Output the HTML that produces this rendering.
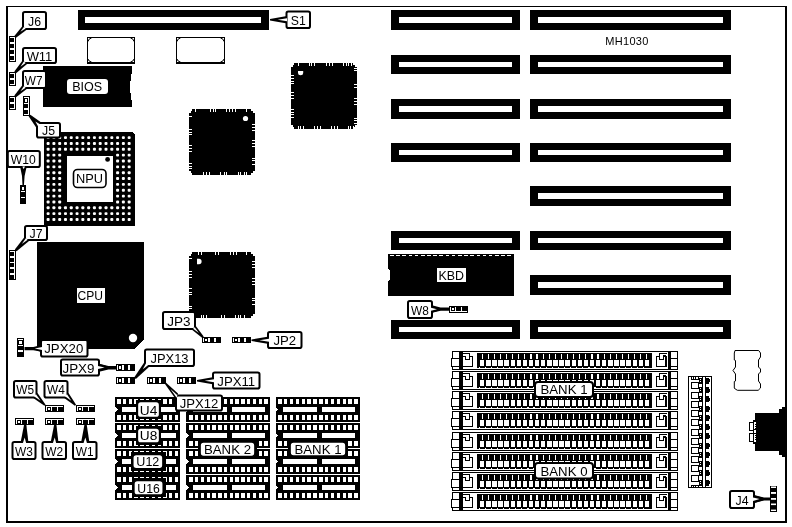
<!DOCTYPE html>
<html lang="en"><head><meta charset="utf-8"><title>MH1030 motherboard layout</title>
<style>
html,body{margin:0;padding:0;background:#fff;}
body{width:792px;height:527px;overflow:hidden;}
svg{display:block;will-change:transform;font-family:"Liberation Sans",sans-serif;fill:#000;}
svg text{fill:#000;}
</style></head><body>
<svg width="792" height="527" viewBox="0 0 792 527" shape-rendering="crispEdges">
<rect x="0" y="0" width="792" height="527" fill="#fff"/>
<rect x="6" y="6" width="781" height="1" fill="#000"/>
<rect x="6" y="6" width="2" height="517" fill="#000"/>
<rect x="785" y="6" width="2" height="517" fill="#000"/>
<rect x="6" y="521" width="781" height="2" fill="#000"/>
<rect x="530" y="10" width="201" height="20" fill="#000"/>
<rect x="538" y="17" width="185" height="6" fill="#fff"/>
<rect x="391" y="10" width="129" height="20" fill="#000"/>
<rect x="399" y="17" width="113" height="6" fill="#fff"/>
<rect x="530" y="55" width="201" height="19" fill="#000"/>
<rect x="538" y="62" width="185" height="5" fill="#fff"/>
<rect x="391" y="55" width="129" height="19" fill="#000"/>
<rect x="399" y="62" width="113" height="5" fill="#fff"/>
<rect x="530" y="99" width="201" height="20" fill="#000"/>
<rect x="538" y="106" width="185" height="6" fill="#fff"/>
<rect x="391" y="99" width="129" height="20" fill="#000"/>
<rect x="399" y="106" width="113" height="6" fill="#fff"/>
<rect x="530" y="143" width="201" height="19" fill="#000"/>
<rect x="538" y="150" width="185" height="5" fill="#fff"/>
<rect x="391" y="143" width="129" height="19" fill="#000"/>
<rect x="399" y="150" width="113" height="5" fill="#fff"/>
<rect x="530" y="186" width="201" height="20" fill="#000"/>
<rect x="538" y="193" width="185" height="6" fill="#fff"/>
<rect x="530" y="231" width="201" height="19" fill="#000"/>
<rect x="538" y="238" width="185" height="5" fill="#fff"/>
<rect x="391" y="231" width="129" height="19" fill="#000"/>
<rect x="399" y="238" width="113" height="5" fill="#fff"/>
<rect x="530" y="275" width="201" height="20" fill="#000"/>
<rect x="538" y="282" width="185" height="6" fill="#fff"/>
<rect x="530" y="320" width="201" height="19" fill="#000"/>
<rect x="538" y="327" width="185" height="5" fill="#fff"/>
<rect x="391" y="320" width="129" height="19" fill="#000"/>
<rect x="399" y="327" width="113" height="5" fill="#fff"/>
<rect x="78" y="10" width="191" height="20" fill="#000"/>
<rect x="85" y="17" width="176" height="6" fill="#fff"/>
<rect x="87" y="37" width="48" height="27" fill="#000"/>
<rect x="88" y="38" width="46" height="25" fill="#fff"/>
<rect x="87" y="62" width="48" height="2" fill="#000"/>
<path d="M88,41.5 Q88.5,38.5 91.5,38 M134,41.5 Q133.5,38.5 130.5,38 M88,59 Q88.5,61.5 91.5,62 M134,59 Q133.5,61.5 130.5,62" fill="none" stroke="#000" stroke-width="1" shape-rendering="geometricPrecision"/>
<rect x="176" y="37" width="49" height="27" fill="#000"/>
<rect x="177" y="38" width="47" height="25" fill="#fff"/>
<rect x="176" y="62" width="49" height="2" fill="#000"/>
<path d="M177,41.5 Q177.5,38.5 180.5,38 M224,41.5 Q223.5,38.5 220.5,38 M177,59 Q177.5,61.5 180.5,62 M224,59 Q223.5,61.5 220.5,62" fill="none" stroke="#000" stroke-width="1" shape-rendering="geometricPrecision"/>
<rect x="192" y="109" width="59" height="66" fill="#000"/>
<rect x="189" y="113" width="66" height="58" fill="#000"/>
<rect x="191" y="111" width="62" height="62" fill="#000"/>
<circle cx="245.5" cy="118.5" r="2.6" fill="#fff" shape-rendering="geometricPrecision"/>
<rect x="195" y="109" width="1" height="3" fill="#fff"/>
<rect x="210" y="109" width="1" height="3" fill="#fff"/>
<rect x="213" y="109" width="1" height="3" fill="#fff"/>
<rect x="215" y="109" width="1" height="3" fill="#fff"/>
<rect x="226" y="109" width="1" height="3" fill="#fff"/>
<rect x="229" y="109" width="1" height="3" fill="#fff"/>
<rect x="232" y="109" width="1" height="3" fill="#fff"/>
<rect x="235" y="109" width="1" height="3" fill="#fff"/>
<rect x="246" y="109" width="1" height="3" fill="#fff"/>
<rect x="203" y="172" width="1" height="3" fill="#fff"/>
<rect x="206" y="172" width="1" height="3" fill="#fff"/>
<rect x="209" y="172" width="1" height="3" fill="#fff"/>
<rect x="220" y="172" width="1" height="3" fill="#fff"/>
<rect x="224" y="172" width="1" height="3" fill="#fff"/>
<rect x="226" y="172" width="1" height="3" fill="#fff"/>
<rect x="238" y="172" width="1" height="3" fill="#fff"/>
<rect x="240" y="172" width="1" height="3" fill="#fff"/>
<rect x="244" y="172" width="1" height="3" fill="#fff"/>
<rect x="246" y="172" width="1" height="3" fill="#fff"/>
<rect x="189" y="116" width="3" height="1" fill="#fff"/>
<rect x="189" y="129" width="3" height="1" fill="#fff"/>
<rect x="189" y="132" width="3" height="1" fill="#fff"/>
<rect x="189" y="134" width="3" height="1" fill="#fff"/>
<rect x="189" y="145" width="3" height="1" fill="#fff"/>
<rect x="189" y="148" width="3" height="1" fill="#fff"/>
<rect x="189" y="151" width="3" height="1" fill="#fff"/>
<rect x="189" y="163" width="3" height="1" fill="#fff"/>
<rect x="189" y="166" width="3" height="1" fill="#fff"/>
<rect x="189" y="168" width="3" height="1" fill="#fff"/>
<rect x="252" y="124" width="3" height="1" fill="#fff"/>
<rect x="252" y="127" width="3" height="1" fill="#fff"/>
<rect x="252" y="130" width="3" height="1" fill="#fff"/>
<rect x="252" y="140" width="3" height="1" fill="#fff"/>
<rect x="252" y="143" width="3" height="1" fill="#fff"/>
<rect x="252" y="146" width="3" height="1" fill="#fff"/>
<rect x="252" y="158" width="3" height="1" fill="#fff"/>
<rect x="252" y="160" width="3" height="1" fill="#fff"/>
<rect x="252" y="164" width="3" height="1" fill="#fff"/>
<rect x="294" y="63" width="59" height="66" fill="#000"/>
<rect x="291" y="67" width="66" height="58" fill="#000"/>
<rect x="293" y="65" width="62" height="62" fill="#000"/>
<path d="M298,71 H303.2 V73 Q303.2,75.2 300.6,75.2 Q298,75.2 298,73 Z" fill="#fff" shape-rendering="geometricPrecision"/>
<rect x="298" y="63" width="1" height="3" fill="#fff"/>
<rect x="309" y="63" width="1" height="3" fill="#fff"/>
<rect x="311" y="63" width="1" height="3" fill="#fff"/>
<rect x="314" y="63" width="1" height="3" fill="#fff"/>
<rect x="326" y="63" width="1" height="3" fill="#fff"/>
<rect x="329" y="63" width="1" height="3" fill="#fff"/>
<rect x="332" y="63" width="1" height="3" fill="#fff"/>
<rect x="343" y="63" width="1" height="3" fill="#fff"/>
<rect x="346" y="63" width="1" height="3" fill="#fff"/>
<rect x="348" y="63" width="1" height="3" fill="#fff"/>
<rect x="351" y="63" width="1" height="3" fill="#fff"/>
<rect x="298" y="126" width="1" height="3" fill="#fff"/>
<rect x="300" y="126" width="1" height="3" fill="#fff"/>
<rect x="303" y="126" width="1" height="3" fill="#fff"/>
<rect x="314" y="126" width="1" height="3" fill="#fff"/>
<rect x="317" y="126" width="1" height="3" fill="#fff"/>
<rect x="320" y="126" width="1" height="3" fill="#fff"/>
<rect x="331" y="126" width="1" height="3" fill="#fff"/>
<rect x="334" y="126" width="1" height="3" fill="#fff"/>
<rect x="337" y="126" width="1" height="3" fill="#fff"/>
<rect x="348" y="126" width="1" height="3" fill="#fff"/>
<rect x="350" y="126" width="1" height="3" fill="#fff"/>
<rect x="353" y="126" width="1" height="3" fill="#fff"/>
<rect x="291" y="75" width="3" height="1" fill="#fff"/>
<rect x="291" y="78" width="3" height="1" fill="#fff"/>
<rect x="291" y="81" width="3" height="1" fill="#fff"/>
<rect x="291" y="83" width="3" height="1" fill="#fff"/>
<rect x="291" y="92" width="3" height="1" fill="#fff"/>
<rect x="291" y="95" width="3" height="1" fill="#fff"/>
<rect x="291" y="98" width="3" height="1" fill="#fff"/>
<rect x="291" y="109" width="3" height="1" fill="#fff"/>
<rect x="291" y="112" width="3" height="1" fill="#fff"/>
<rect x="291" y="114" width="3" height="1" fill="#fff"/>
<rect x="291" y="117" width="3" height="1" fill="#fff"/>
<rect x="354" y="68" width="3" height="1" fill="#fff"/>
<rect x="354" y="70" width="3" height="1" fill="#fff"/>
<rect x="354" y="84" width="3" height="1" fill="#fff"/>
<rect x="354" y="87" width="3" height="1" fill="#fff"/>
<rect x="354" y="98" width="3" height="1" fill="#fff"/>
<rect x="354" y="101" width="3" height="1" fill="#fff"/>
<rect x="354" y="104" width="3" height="1" fill="#fff"/>
<rect x="354" y="118" width="3" height="1" fill="#fff"/>
<rect x="354" y="120" width="3" height="1" fill="#fff"/>
<rect x="354" y="123" width="3" height="1" fill="#fff"/>
<rect x="192" y="252" width="59" height="66" fill="#000"/>
<rect x="189" y="256" width="66" height="58" fill="#000"/>
<rect x="191" y="254" width="62" height="62" fill="#000"/>
<path d="M197,258.8 H199 Q201.6,258.8 201.6,261.5 Q201.6,264.2 199,264.2 H197 Z" fill="#fff" shape-rendering="geometricPrecision"/>
<rect x="198" y="252" width="1" height="3" fill="#fff"/>
<rect x="201" y="252" width="1" height="3" fill="#fff"/>
<rect x="215" y="252" width="1" height="3" fill="#fff"/>
<rect x="218" y="252" width="1" height="3" fill="#fff"/>
<rect x="230" y="252" width="1" height="3" fill="#fff"/>
<rect x="233" y="252" width="1" height="3" fill="#fff"/>
<rect x="236" y="252" width="1" height="3" fill="#fff"/>
<rect x="246" y="252" width="1" height="3" fill="#fff"/>
<rect x="201" y="315" width="1" height="3" fill="#fff"/>
<rect x="203" y="315" width="1" height="3" fill="#fff"/>
<rect x="206" y="315" width="1" height="3" fill="#fff"/>
<rect x="221" y="315" width="1" height="3" fill="#fff"/>
<rect x="224" y="315" width="1" height="3" fill="#fff"/>
<rect x="235" y="315" width="1" height="3" fill="#fff"/>
<rect x="238" y="315" width="1" height="3" fill="#fff"/>
<rect x="240" y="315" width="1" height="3" fill="#fff"/>
<rect x="244" y="315" width="1" height="3" fill="#fff"/>
<rect x="189" y="258" width="3" height="1" fill="#fff"/>
<rect x="189" y="271" width="3" height="1" fill="#fff"/>
<rect x="189" y="274" width="3" height="1" fill="#fff"/>
<rect x="189" y="277" width="3" height="1" fill="#fff"/>
<rect x="189" y="288" width="3" height="1" fill="#fff"/>
<rect x="189" y="292" width="3" height="1" fill="#fff"/>
<rect x="189" y="294" width="3" height="1" fill="#fff"/>
<rect x="189" y="306" width="3" height="1" fill="#fff"/>
<rect x="189" y="308" width="3" height="1" fill="#fff"/>
<rect x="252" y="261" width="3" height="1" fill="#fff"/>
<rect x="252" y="264" width="3" height="1" fill="#fff"/>
<rect x="252" y="267" width="3" height="1" fill="#fff"/>
<rect x="252" y="278" width="3" height="1" fill="#fff"/>
<rect x="252" y="281" width="3" height="1" fill="#fff"/>
<rect x="252" y="284" width="3" height="1" fill="#fff"/>
<rect x="252" y="298" width="3" height="1" fill="#fff"/>
<rect x="252" y="300" width="3" height="1" fill="#fff"/>
<rect x="252" y="304" width="3" height="1" fill="#fff"/>
<rect x="43" y="66" width="89" height="41" fill="#000"/>
<rect x="131" y="74" width="1" height="26" fill="#fff"/>
<rect x="130" y="81" width="1" height="12" fill="#fff"/>
<rect x="67" y="79" width="41" height="15" rx="3" fill="#fff" shape-rendering="geometricPrecision"/>
<text x="87.2" y="91.1" font-size="13.6" text-anchor="middle" letter-spacing="0" textLength="30" lengthAdjust="spacingAndGlyphs">BIOS</text>
<polygon points="44,132 132,132 135,135 135,226 44,226" fill="#000" stroke="none" stroke-width="1"/>
<rect x="46.60" y="136.15" width="3" height="2.9" rx="1" fill="#fff" shape-rendering="geometricPrecision"/>
<rect x="52.39" y="136.15" width="3" height="2.9" rx="1" fill="#fff" shape-rendering="geometricPrecision"/>
<rect x="58.18" y="136.15" width="3" height="2.9" rx="1" fill="#fff" shape-rendering="geometricPrecision"/>
<rect x="63.97" y="136.15" width="3" height="2.9" rx="1" fill="#fff" shape-rendering="geometricPrecision"/>
<rect x="69.76" y="136.15" width="3" height="2.9" rx="1" fill="#fff" shape-rendering="geometricPrecision"/>
<rect x="75.55" y="136.15" width="3" height="2.9" rx="1" fill="#fff" shape-rendering="geometricPrecision"/>
<rect x="81.34" y="136.15" width="3" height="2.9" rx="1" fill="#fff" shape-rendering="geometricPrecision"/>
<rect x="87.13" y="136.15" width="3" height="2.9" rx="1" fill="#fff" shape-rendering="geometricPrecision"/>
<rect x="92.92" y="136.15" width="3" height="2.9" rx="1" fill="#fff" shape-rendering="geometricPrecision"/>
<rect x="98.71" y="136.15" width="3" height="2.9" rx="1" fill="#fff" shape-rendering="geometricPrecision"/>
<rect x="104.50" y="136.15" width="3" height="2.9" rx="1" fill="#fff" shape-rendering="geometricPrecision"/>
<rect x="110.29" y="136.15" width="3" height="2.9" rx="1" fill="#fff" shape-rendering="geometricPrecision"/>
<rect x="116.08" y="136.15" width="3" height="2.9" rx="1" fill="#fff" shape-rendering="geometricPrecision"/>
<rect x="121.87" y="136.15" width="3" height="2.9" rx="1" fill="#fff" shape-rendering="geometricPrecision"/>
<rect x="127.66" y="136.15" width="3" height="2.9" rx="1" fill="#fff" shape-rendering="geometricPrecision"/>
<rect x="46.60" y="142.00" width="3" height="2.9" rx="1" fill="#fff" shape-rendering="geometricPrecision"/>
<rect x="52.39" y="142.00" width="3" height="2.9" rx="1" fill="#fff" shape-rendering="geometricPrecision"/>
<rect x="58.18" y="142.00" width="3" height="2.9" rx="1" fill="#fff" shape-rendering="geometricPrecision"/>
<rect x="63.97" y="142.00" width="3" height="2.9" rx="1" fill="#fff" shape-rendering="geometricPrecision"/>
<rect x="69.76" y="142.00" width="3" height="2.9" rx="1" fill="#fff" shape-rendering="geometricPrecision"/>
<rect x="75.55" y="142.00" width="3" height="2.9" rx="1" fill="#fff" shape-rendering="geometricPrecision"/>
<rect x="81.34" y="142.00" width="3" height="2.9" rx="1" fill="#fff" shape-rendering="geometricPrecision"/>
<rect x="87.13" y="142.00" width="3" height="2.9" rx="1" fill="#fff" shape-rendering="geometricPrecision"/>
<rect x="92.92" y="142.00" width="3" height="2.9" rx="1" fill="#fff" shape-rendering="geometricPrecision"/>
<rect x="98.71" y="142.00" width="3" height="2.9" rx="1" fill="#fff" shape-rendering="geometricPrecision"/>
<rect x="104.50" y="142.00" width="3" height="2.9" rx="1" fill="#fff" shape-rendering="geometricPrecision"/>
<rect x="110.29" y="142.00" width="3" height="2.9" rx="1" fill="#fff" shape-rendering="geometricPrecision"/>
<rect x="116.08" y="142.00" width="3" height="2.9" rx="1" fill="#fff" shape-rendering="geometricPrecision"/>
<rect x="121.87" y="142.00" width="3" height="2.9" rx="1" fill="#fff" shape-rendering="geometricPrecision"/>
<rect x="127.66" y="142.00" width="3" height="2.9" rx="1" fill="#fff" shape-rendering="geometricPrecision"/>
<rect x="46.60" y="147.85" width="3" height="2.9" rx="1" fill="#fff" shape-rendering="geometricPrecision"/>
<rect x="52.39" y="147.85" width="3" height="2.9" rx="1" fill="#fff" shape-rendering="geometricPrecision"/>
<rect x="58.18" y="147.85" width="3" height="2.9" rx="1" fill="#fff" shape-rendering="geometricPrecision"/>
<rect x="63.97" y="147.85" width="3" height="2.9" rx="1" fill="#fff" shape-rendering="geometricPrecision"/>
<rect x="69.76" y="147.85" width="3" height="2.9" rx="1" fill="#fff" shape-rendering="geometricPrecision"/>
<rect x="75.55" y="147.85" width="3" height="2.9" rx="1" fill="#fff" shape-rendering="geometricPrecision"/>
<rect x="81.34" y="147.85" width="3" height="2.9" rx="1" fill="#fff" shape-rendering="geometricPrecision"/>
<rect x="87.13" y="147.85" width="3" height="2.9" rx="1" fill="#fff" shape-rendering="geometricPrecision"/>
<rect x="92.92" y="147.85" width="3" height="2.9" rx="1" fill="#fff" shape-rendering="geometricPrecision"/>
<rect x="98.71" y="147.85" width="3" height="2.9" rx="1" fill="#fff" shape-rendering="geometricPrecision"/>
<rect x="104.50" y="147.85" width="3" height="2.9" rx="1" fill="#fff" shape-rendering="geometricPrecision"/>
<rect x="110.29" y="147.85" width="3" height="2.9" rx="1" fill="#fff" shape-rendering="geometricPrecision"/>
<rect x="116.08" y="147.85" width="3" height="2.9" rx="1" fill="#fff" shape-rendering="geometricPrecision"/>
<rect x="121.87" y="147.85" width="3" height="2.9" rx="1" fill="#fff" shape-rendering="geometricPrecision"/>
<rect x="127.66" y="147.85" width="3" height="2.9" rx="1" fill="#fff" shape-rendering="geometricPrecision"/>
<rect x="46.60" y="153.70" width="3" height="2.9" rx="1" fill="#fff" shape-rendering="geometricPrecision"/>
<rect x="52.39" y="153.70" width="3" height="2.9" rx="1" fill="#fff" shape-rendering="geometricPrecision"/>
<rect x="58.18" y="153.70" width="3" height="2.9" rx="1" fill="#fff" shape-rendering="geometricPrecision"/>
<rect x="116.08" y="153.70" width="3" height="2.9" rx="1" fill="#fff" shape-rendering="geometricPrecision"/>
<rect x="121.87" y="153.70" width="3" height="2.9" rx="1" fill="#fff" shape-rendering="geometricPrecision"/>
<rect x="127.66" y="153.70" width="3" height="2.9" rx="1" fill="#fff" shape-rendering="geometricPrecision"/>
<rect x="46.60" y="159.55" width="3" height="2.9" rx="1" fill="#fff" shape-rendering="geometricPrecision"/>
<rect x="52.39" y="159.55" width="3" height="2.9" rx="1" fill="#fff" shape-rendering="geometricPrecision"/>
<rect x="58.18" y="159.55" width="3" height="2.9" rx="1" fill="#fff" shape-rendering="geometricPrecision"/>
<rect x="116.08" y="159.55" width="3" height="2.9" rx="1" fill="#fff" shape-rendering="geometricPrecision"/>
<rect x="121.87" y="159.55" width="3" height="2.9" rx="1" fill="#fff" shape-rendering="geometricPrecision"/>
<rect x="127.66" y="159.55" width="3" height="2.9" rx="1" fill="#fff" shape-rendering="geometricPrecision"/>
<rect x="46.60" y="165.40" width="3" height="2.9" rx="1" fill="#fff" shape-rendering="geometricPrecision"/>
<rect x="52.39" y="165.40" width="3" height="2.9" rx="1" fill="#fff" shape-rendering="geometricPrecision"/>
<rect x="58.18" y="165.40" width="3" height="2.9" rx="1" fill="#fff" shape-rendering="geometricPrecision"/>
<rect x="116.08" y="165.40" width="3" height="2.9" rx="1" fill="#fff" shape-rendering="geometricPrecision"/>
<rect x="121.87" y="165.40" width="3" height="2.9" rx="1" fill="#fff" shape-rendering="geometricPrecision"/>
<rect x="127.66" y="165.40" width="3" height="2.9" rx="1" fill="#fff" shape-rendering="geometricPrecision"/>
<rect x="46.60" y="171.25" width="3" height="2.9" rx="1" fill="#fff" shape-rendering="geometricPrecision"/>
<rect x="52.39" y="171.25" width="3" height="2.9" rx="1" fill="#fff" shape-rendering="geometricPrecision"/>
<rect x="58.18" y="171.25" width="3" height="2.9" rx="1" fill="#fff" shape-rendering="geometricPrecision"/>
<rect x="116.08" y="171.25" width="3" height="2.9" rx="1" fill="#fff" shape-rendering="geometricPrecision"/>
<rect x="121.87" y="171.25" width="3" height="2.9" rx="1" fill="#fff" shape-rendering="geometricPrecision"/>
<rect x="127.66" y="171.25" width="3" height="2.9" rx="1" fill="#fff" shape-rendering="geometricPrecision"/>
<rect x="46.60" y="177.10" width="3" height="2.9" rx="1" fill="#fff" shape-rendering="geometricPrecision"/>
<rect x="52.39" y="177.10" width="3" height="2.9" rx="1" fill="#fff" shape-rendering="geometricPrecision"/>
<rect x="58.18" y="177.10" width="3" height="2.9" rx="1" fill="#fff" shape-rendering="geometricPrecision"/>
<rect x="116.08" y="177.10" width="3" height="2.9" rx="1" fill="#fff" shape-rendering="geometricPrecision"/>
<rect x="121.87" y="177.10" width="3" height="2.9" rx="1" fill="#fff" shape-rendering="geometricPrecision"/>
<rect x="127.66" y="177.10" width="3" height="2.9" rx="1" fill="#fff" shape-rendering="geometricPrecision"/>
<rect x="46.60" y="182.95" width="3" height="2.9" rx="1" fill="#fff" shape-rendering="geometricPrecision"/>
<rect x="52.39" y="182.95" width="3" height="2.9" rx="1" fill="#fff" shape-rendering="geometricPrecision"/>
<rect x="58.18" y="182.95" width="3" height="2.9" rx="1" fill="#fff" shape-rendering="geometricPrecision"/>
<rect x="116.08" y="182.95" width="3" height="2.9" rx="1" fill="#fff" shape-rendering="geometricPrecision"/>
<rect x="121.87" y="182.95" width="3" height="2.9" rx="1" fill="#fff" shape-rendering="geometricPrecision"/>
<rect x="127.66" y="182.95" width="3" height="2.9" rx="1" fill="#fff" shape-rendering="geometricPrecision"/>
<rect x="46.60" y="188.80" width="3" height="2.9" rx="1" fill="#fff" shape-rendering="geometricPrecision"/>
<rect x="52.39" y="188.80" width="3" height="2.9" rx="1" fill="#fff" shape-rendering="geometricPrecision"/>
<rect x="58.18" y="188.80" width="3" height="2.9" rx="1" fill="#fff" shape-rendering="geometricPrecision"/>
<rect x="116.08" y="188.80" width="3" height="2.9" rx="1" fill="#fff" shape-rendering="geometricPrecision"/>
<rect x="121.87" y="188.80" width="3" height="2.9" rx="1" fill="#fff" shape-rendering="geometricPrecision"/>
<rect x="127.66" y="188.80" width="3" height="2.9" rx="1" fill="#fff" shape-rendering="geometricPrecision"/>
<rect x="46.60" y="194.65" width="3" height="2.9" rx="1" fill="#fff" shape-rendering="geometricPrecision"/>
<rect x="52.39" y="194.65" width="3" height="2.9" rx="1" fill="#fff" shape-rendering="geometricPrecision"/>
<rect x="58.18" y="194.65" width="3" height="2.9" rx="1" fill="#fff" shape-rendering="geometricPrecision"/>
<rect x="116.08" y="194.65" width="3" height="2.9" rx="1" fill="#fff" shape-rendering="geometricPrecision"/>
<rect x="121.87" y="194.65" width="3" height="2.9" rx="1" fill="#fff" shape-rendering="geometricPrecision"/>
<rect x="127.66" y="194.65" width="3" height="2.9" rx="1" fill="#fff" shape-rendering="geometricPrecision"/>
<rect x="46.60" y="200.50" width="3" height="2.9" rx="1" fill="#fff" shape-rendering="geometricPrecision"/>
<rect x="52.39" y="200.50" width="3" height="2.9" rx="1" fill="#fff" shape-rendering="geometricPrecision"/>
<rect x="58.18" y="200.50" width="3" height="2.9" rx="1" fill="#fff" shape-rendering="geometricPrecision"/>
<rect x="116.08" y="200.50" width="3" height="2.9" rx="1" fill="#fff" shape-rendering="geometricPrecision"/>
<rect x="121.87" y="200.50" width="3" height="2.9" rx="1" fill="#fff" shape-rendering="geometricPrecision"/>
<rect x="127.66" y="200.50" width="3" height="2.9" rx="1" fill="#fff" shape-rendering="geometricPrecision"/>
<rect x="46.60" y="206.35" width="3" height="2.9" rx="1" fill="#fff" shape-rendering="geometricPrecision"/>
<rect x="52.39" y="206.35" width="3" height="2.9" rx="1" fill="#fff" shape-rendering="geometricPrecision"/>
<rect x="58.18" y="206.35" width="3" height="2.9" rx="1" fill="#fff" shape-rendering="geometricPrecision"/>
<rect x="63.97" y="206.35" width="3" height="2.9" rx="1" fill="#fff" shape-rendering="geometricPrecision"/>
<rect x="69.76" y="206.35" width="3" height="2.9" rx="1" fill="#fff" shape-rendering="geometricPrecision"/>
<rect x="75.55" y="206.35" width="3" height="2.9" rx="1" fill="#fff" shape-rendering="geometricPrecision"/>
<rect x="81.34" y="206.35" width="3" height="2.9" rx="1" fill="#fff" shape-rendering="geometricPrecision"/>
<rect x="87.13" y="206.35" width="3" height="2.9" rx="1" fill="#fff" shape-rendering="geometricPrecision"/>
<rect x="92.92" y="206.35" width="3" height="2.9" rx="1" fill="#fff" shape-rendering="geometricPrecision"/>
<rect x="98.71" y="206.35" width="3" height="2.9" rx="1" fill="#fff" shape-rendering="geometricPrecision"/>
<rect x="104.50" y="206.35" width="3" height="2.9" rx="1" fill="#fff" shape-rendering="geometricPrecision"/>
<rect x="110.29" y="206.35" width="3" height="2.9" rx="1" fill="#fff" shape-rendering="geometricPrecision"/>
<rect x="116.08" y="206.35" width="3" height="2.9" rx="1" fill="#fff" shape-rendering="geometricPrecision"/>
<rect x="121.87" y="206.35" width="3" height="2.9" rx="1" fill="#fff" shape-rendering="geometricPrecision"/>
<rect x="127.66" y="206.35" width="3" height="2.9" rx="1" fill="#fff" shape-rendering="geometricPrecision"/>
<rect x="46.60" y="212.20" width="3" height="2.9" rx="1" fill="#fff" shape-rendering="geometricPrecision"/>
<rect x="52.39" y="212.20" width="3" height="2.9" rx="1" fill="#fff" shape-rendering="geometricPrecision"/>
<rect x="58.18" y="212.20" width="3" height="2.9" rx="1" fill="#fff" shape-rendering="geometricPrecision"/>
<rect x="63.97" y="212.20" width="3" height="2.9" rx="1" fill="#fff" shape-rendering="geometricPrecision"/>
<rect x="69.76" y="212.20" width="3" height="2.9" rx="1" fill="#fff" shape-rendering="geometricPrecision"/>
<rect x="75.55" y="212.20" width="3" height="2.9" rx="1" fill="#fff" shape-rendering="geometricPrecision"/>
<rect x="81.34" y="212.20" width="3" height="2.9" rx="1" fill="#fff" shape-rendering="geometricPrecision"/>
<rect x="87.13" y="212.20" width="3" height="2.9" rx="1" fill="#fff" shape-rendering="geometricPrecision"/>
<rect x="92.92" y="212.20" width="3" height="2.9" rx="1" fill="#fff" shape-rendering="geometricPrecision"/>
<rect x="98.71" y="212.20" width="3" height="2.9" rx="1" fill="#fff" shape-rendering="geometricPrecision"/>
<rect x="104.50" y="212.20" width="3" height="2.9" rx="1" fill="#fff" shape-rendering="geometricPrecision"/>
<rect x="110.29" y="212.20" width="3" height="2.9" rx="1" fill="#fff" shape-rendering="geometricPrecision"/>
<rect x="116.08" y="212.20" width="3" height="2.9" rx="1" fill="#fff" shape-rendering="geometricPrecision"/>
<rect x="121.87" y="212.20" width="3" height="2.9" rx="1" fill="#fff" shape-rendering="geometricPrecision"/>
<rect x="127.66" y="212.20" width="3" height="2.9" rx="1" fill="#fff" shape-rendering="geometricPrecision"/>
<rect x="46.60" y="218.05" width="3" height="2.9" rx="1" fill="#fff" shape-rendering="geometricPrecision"/>
<rect x="52.39" y="218.05" width="3" height="2.9" rx="1" fill="#fff" shape-rendering="geometricPrecision"/>
<rect x="58.18" y="218.05" width="3" height="2.9" rx="1" fill="#fff" shape-rendering="geometricPrecision"/>
<rect x="63.97" y="218.05" width="3" height="2.9" rx="1" fill="#fff" shape-rendering="geometricPrecision"/>
<rect x="69.76" y="218.05" width="3" height="2.9" rx="1" fill="#fff" shape-rendering="geometricPrecision"/>
<rect x="75.55" y="218.05" width="3" height="2.9" rx="1" fill="#fff" shape-rendering="geometricPrecision"/>
<rect x="81.34" y="218.05" width="3" height="2.9" rx="1" fill="#fff" shape-rendering="geometricPrecision"/>
<rect x="87.13" y="218.05" width="3" height="2.9" rx="1" fill="#fff" shape-rendering="geometricPrecision"/>
<rect x="92.92" y="218.05" width="3" height="2.9" rx="1" fill="#fff" shape-rendering="geometricPrecision"/>
<rect x="98.71" y="218.05" width="3" height="2.9" rx="1" fill="#fff" shape-rendering="geometricPrecision"/>
<rect x="104.50" y="218.05" width="3" height="2.9" rx="1" fill="#fff" shape-rendering="geometricPrecision"/>
<rect x="110.29" y="218.05" width="3" height="2.9" rx="1" fill="#fff" shape-rendering="geometricPrecision"/>
<rect x="116.08" y="218.05" width="3" height="2.9" rx="1" fill="#fff" shape-rendering="geometricPrecision"/>
<rect x="121.87" y="218.05" width="3" height="2.9" rx="1" fill="#fff" shape-rendering="geometricPrecision"/>
<rect x="127.66" y="218.05" width="3" height="2.9" rx="1" fill="#fff" shape-rendering="geometricPrecision"/>
<rect x="63" y="152" width="53" height="53" fill="#000"/>
<rect x="67" y="156" width="46" height="46" fill="#fff"/>
<circle cx="107.6" cy="159.4" r="2.4" fill="#000" shape-rendering="geometricPrecision"/>
<rect x="73.5" y="169.5" width="32.5" height="18" rx="4" fill="#fff" stroke="#000" stroke-width="1.6" shape-rendering="geometricPrecision"/>
<text x="89.5" y="183.4" font-size="13.6" text-anchor="middle" letter-spacing="0" textLength="27" lengthAdjust="spacingAndGlyphs">NPU</text>
<polygon points="37,242 144,242 144,339.5 134.5,349 37,349" fill="#000" stroke="none" stroke-width="1"/>
<circle cx="133" cy="338" r="4.2" fill="#fff" shape-rendering="geometricPrecision"/>
<rect x="77" y="288" width="28" height="15" fill="#fff"/>
<text x="90.2" y="300" font-size="13.6" text-anchor="middle" letter-spacing="0" textLength="25.5" lengthAdjust="spacingAndGlyphs">CPU</text>
<rect x="388" y="254" width="126" height="42" fill="#000"/>
<rect x="390" y="255" width="3.6" height="1" fill="#fff"/>
<rect x="396.18" y="255" width="3.6" height="1" fill="#fff"/>
<rect x="402.36" y="255" width="3.6" height="1" fill="#fff"/>
<rect x="408.54" y="255" width="3.6" height="1" fill="#fff"/>
<rect x="414.72" y="255" width="3.6" height="1" fill="#fff"/>
<rect x="420.9" y="255" width="3.6" height="1" fill="#fff"/>
<rect x="427.08" y="255" width="3.6" height="1" fill="#fff"/>
<rect x="433.26" y="255" width="3.6" height="1" fill="#fff"/>
<rect x="439.44" y="255" width="3.6" height="1" fill="#fff"/>
<rect x="445.62" y="255" width="3.6" height="1" fill="#fff"/>
<rect x="451.8" y="255" width="3.6" height="1" fill="#fff"/>
<rect x="457.98" y="255" width="3.6" height="1" fill="#fff"/>
<rect x="464.16" y="255" width="3.6" height="1" fill="#fff"/>
<rect x="470.34" y="255" width="3.6" height="1" fill="#fff"/>
<rect x="476.52" y="255" width="3.6" height="1" fill="#fff"/>
<rect x="482.7" y="255" width="3.6" height="1" fill="#fff"/>
<rect x="488.88" y="255" width="3.6" height="1" fill="#fff"/>
<rect x="495.06" y="255" width="3.6" height="1" fill="#fff"/>
<rect x="501.24" y="255" width="3.6" height="1" fill="#fff"/>
<rect x="507.42" y="255" width="3.6" height="1" fill="#fff"/>
<rect x="388" y="269" width="2" height="12" fill="#fff"/>
<rect x="389" y="269" width="1" height="1" fill="#000"/>
<rect x="389" y="280" width="1" height="1" fill="#000"/>
<rect x="437" y="268" width="28.5" height="14" fill="#fff"/>
<text x="451.2" y="279.9" font-size="13.6" text-anchor="middle" letter-spacing="0" textLength="25.5" lengthAdjust="spacingAndGlyphs">KBD</text>
<text x="627" y="45" font-size="11" text-anchor="middle" letter-spacing="0.3">MH1030</text>
<rect x="9" y="36" width="7" height="26" fill="#000"/>
<rect x="10" y="37" width="5" height="24" fill="#fff"/>
<rect x="10" y="38" width="4" height="4" fill="#000"/>
<rect x="10" y="44" width="4" height="4" fill="#000"/>
<rect x="10" y="50" width="4" height="4" fill="#000"/>
<rect x="10" y="56" width="4" height="4" fill="#000"/>
<rect x="9" y="72" width="7" height="14" fill="#000"/>
<rect x="10" y="73" width="5" height="12" fill="#fff"/>
<rect x="10" y="74" width="4" height="4" fill="#000"/>
<rect x="10" y="80" width="4" height="4" fill="#000"/>
<rect x="9" y="96" width="7" height="14" fill="#000"/>
<rect x="10" y="97" width="5" height="12" fill="#fff"/>
<rect x="10" y="98" width="4" height="4" fill="#000"/>
<rect x="10" y="104" width="4" height="4" fill="#000"/>
<rect x="23" y="96" width="7" height="20" fill="#000"/>
<rect x="24" y="97" width="5" height="18" fill="#fff"/>
<rect x="24" y="98" width="4" height="5" fill="#000"/>
<rect x="25" y="99" width="2" height="3" fill="#fff"/>
<rect x="24" y="104" width="4" height="4" fill="#000"/>
<rect x="24" y="110" width="4" height="4" fill="#000"/>
<rect x="9" y="250" width="7" height="30" fill="#000"/>
<rect x="10" y="251" width="5" height="28" fill="#fff"/>
<rect x="10" y="252" width="4" height="4" fill="#000"/>
<rect x="10" y="258" width="4" height="4" fill="#000"/>
<rect x="10" y="263" width="4" height="4" fill="#000"/>
<rect x="10" y="269" width="4" height="4" fill="#000"/>
<rect x="10" y="275" width="4" height="4" fill="#000"/>
<rect x="20" y="185" width="6" height="19" fill="#000"/>
<rect x="22" y="187" width="2" height="3" fill="#fff"/>
<rect x="21" y="191" width="4" height="1" fill="#fff"/>
<rect x="21" y="197" width="4" height="1" fill="#fff"/>
<rect x="17" y="338" width="7" height="19" fill="#000"/>
<rect x="18" y="339" width="5" height="1" fill="#fff"/>
<rect x="19" y="341" width="3" height="3" fill="#fff"/>
<rect x="18" y="345" width="5" height="1" fill="#fff"/>
<rect x="18" y="350" width="5" height="2" fill="#fff"/>
<rect x="116" y="364" width="19" height="7" fill="#000"/>
<rect x="117" y="365" width="1" height="5" fill="#fff"/>
<rect x="119" y="366" width="2" height="3" fill="#fff"/>
<rect x="122" y="365" width="2" height="5" fill="#fff"/>
<rect x="128" y="365" width="2" height="5" fill="#fff"/>
<rect x="116" y="377" width="19" height="7" fill="#000"/>
<rect x="117" y="378" width="1" height="5" fill="#fff"/>
<rect x="119" y="379" width="2" height="3" fill="#fff"/>
<rect x="122" y="378" width="2" height="5" fill="#fff"/>
<rect x="128" y="378" width="2" height="5" fill="#fff"/>
<rect x="147" y="377" width="19" height="7" fill="#000"/>
<rect x="148" y="378" width="1" height="5" fill="#fff"/>
<rect x="150" y="379" width="2" height="3" fill="#fff"/>
<rect x="153" y="378" width="2" height="5" fill="#fff"/>
<rect x="159" y="378" width="2" height="5" fill="#fff"/>
<rect x="177" y="377" width="19" height="7" fill="#000"/>
<rect x="178" y="378" width="1" height="5" fill="#fff"/>
<rect x="180" y="379" width="2" height="3" fill="#fff"/>
<rect x="183" y="378" width="2" height="5" fill="#fff"/>
<rect x="189" y="378" width="2" height="5" fill="#fff"/>
<rect x="202" y="337" width="19" height="6" fill="#000"/>
<rect x="203" y="338" width="1" height="4" fill="#fff"/>
<rect x="205" y="339" width="2" height="2" fill="#fff"/>
<rect x="208" y="338" width="2" height="4" fill="#fff"/>
<rect x="214" y="338" width="2" height="4" fill="#fff"/>
<rect x="232" y="337" width="19" height="6" fill="#000"/>
<rect x="233" y="338" width="1" height="4" fill="#fff"/>
<rect x="235" y="339" width="2" height="2" fill="#fff"/>
<rect x="238" y="338" width="2" height="4" fill="#fff"/>
<rect x="244" y="338" width="2" height="4" fill="#fff"/>
<rect x="449" y="306" width="19" height="7" fill="#000"/>
<rect x="450" y="311" width="17" height="1" fill="#fff"/>
<rect x="450" y="307" width="1" height="5" fill="#fff"/>
<rect x="452" y="308" width="2" height="2" fill="#fff"/>
<rect x="455" y="307" width="1" height="5" fill="#fff"/>
<rect x="461" y="307" width="1" height="5" fill="#fff"/>
<rect x="45" y="405" width="19" height="7" fill="#000"/>
<rect x="46" y="406" width="17" height="1" fill="#fff"/>
<rect x="46" y="406" width="1" height="5" fill="#fff"/>
<rect x="48" y="408" width="2" height="2" fill="#fff"/>
<rect x="51" y="406" width="1" height="5" fill="#fff"/>
<rect x="57" y="406" width="1" height="5" fill="#fff"/>
<rect x="75.5" y="405" width="19" height="7" fill="#000"/>
<rect x="76.5" y="406" width="17" height="1" fill="#fff"/>
<rect x="76.5" y="406" width="1" height="5" fill="#fff"/>
<rect x="78.5" y="408" width="2" height="2" fill="#fff"/>
<rect x="81.5" y="406" width="1" height="5" fill="#fff"/>
<rect x="87.5" y="406" width="1" height="5" fill="#fff"/>
<rect x="15" y="418" width="19" height="7" fill="#000"/>
<rect x="16" y="419" width="17" height="1" fill="#fff"/>
<rect x="16" y="419" width="1" height="5" fill="#fff"/>
<rect x="18" y="421" width="2" height="2" fill="#fff"/>
<rect x="21" y="419" width="1" height="5" fill="#fff"/>
<rect x="27" y="419" width="1" height="5" fill="#fff"/>
<rect x="45" y="418" width="19" height="7" fill="#000"/>
<rect x="46" y="419" width="17" height="1" fill="#fff"/>
<rect x="46" y="419" width="1" height="5" fill="#fff"/>
<rect x="48" y="421" width="2" height="2" fill="#fff"/>
<rect x="51" y="419" width="1" height="5" fill="#fff"/>
<rect x="57" y="419" width="1" height="5" fill="#fff"/>
<rect x="75.5" y="418" width="19" height="7" fill="#000"/>
<rect x="76.5" y="419" width="17" height="1" fill="#fff"/>
<rect x="76.5" y="419" width="1" height="5" fill="#fff"/>
<rect x="78.5" y="421" width="2" height="2" fill="#fff"/>
<rect x="81.5" y="419" width="1" height="5" fill="#fff"/>
<rect x="87.5" y="419" width="1" height="5" fill="#fff"/>
<rect x="115" y="397" width="65" height="25" fill="#000"/>
<rect x="117.2" y="399" width="3.4" height="5" fill="#fff"/>
<rect x="117.2" y="415" width="3.4" height="5" fill="#fff"/>
<rect x="122.96" y="399" width="3.4" height="5" fill="#fff"/>
<rect x="122.96" y="415" width="3.4" height="5" fill="#fff"/>
<rect x="128.72" y="399" width="3.4" height="5" fill="#fff"/>
<rect x="128.72" y="415" width="3.4" height="5" fill="#fff"/>
<rect x="134.48" y="399" width="3.4" height="5" fill="#fff"/>
<rect x="134.48" y="415" width="3.4" height="5" fill="#fff"/>
<rect x="140.24" y="399" width="3.4" height="5" fill="#fff"/>
<rect x="140.24" y="415" width="3.4" height="5" fill="#fff"/>
<rect x="146" y="399" width="3.4" height="5" fill="#fff"/>
<rect x="146" y="415" width="3.4" height="5" fill="#fff"/>
<rect x="151.76" y="399" width="3.4" height="5" fill="#fff"/>
<rect x="151.76" y="415" width="3.4" height="5" fill="#fff"/>
<rect x="157.52" y="399" width="3.4" height="5" fill="#fff"/>
<rect x="157.52" y="415" width="3.4" height="5" fill="#fff"/>
<rect x="163.28" y="399" width="3.4" height="5" fill="#fff"/>
<rect x="163.28" y="415" width="3.4" height="5" fill="#fff"/>
<rect x="169.04" y="399" width="3.4" height="5" fill="#fff"/>
<rect x="169.04" y="415" width="3.4" height="5" fill="#fff"/>
<rect x="174.8" y="399" width="3.4" height="5" fill="#fff"/>
<rect x="174.8" y="415" width="3.4" height="5" fill="#fff"/>
<rect x="122" y="407" width="54" height="5" fill="#fff"/>
<polygon points="115,407 117.5,409.5 115,412" fill="#fff" stroke="none" stroke-width="1"/>
<rect x="186" y="397" width="84" height="25" fill="#000"/>
<rect x="189.2" y="399" width="3.4" height="5" fill="#fff"/>
<rect x="189.2" y="415" width="3.4" height="5" fill="#fff"/>
<rect x="194.98" y="399" width="3.4" height="5" fill="#fff"/>
<rect x="194.98" y="415" width="3.4" height="5" fill="#fff"/>
<rect x="200.76" y="399" width="3.4" height="5" fill="#fff"/>
<rect x="200.76" y="415" width="3.4" height="5" fill="#fff"/>
<rect x="206.54" y="399" width="3.4" height="5" fill="#fff"/>
<rect x="206.54" y="415" width="3.4" height="5" fill="#fff"/>
<rect x="212.32" y="399" width="3.4" height="5" fill="#fff"/>
<rect x="212.32" y="415" width="3.4" height="5" fill="#fff"/>
<rect x="218.1" y="399" width="3.4" height="5" fill="#fff"/>
<rect x="218.1" y="415" width="3.4" height="5" fill="#fff"/>
<rect x="223.88" y="399" width="3.4" height="5" fill="#fff"/>
<rect x="223.88" y="415" width="3.4" height="5" fill="#fff"/>
<rect x="229.66" y="399" width="3.4" height="5" fill="#fff"/>
<rect x="229.66" y="415" width="3.4" height="5" fill="#fff"/>
<rect x="235.44" y="399" width="3.4" height="5" fill="#fff"/>
<rect x="235.44" y="415" width="3.4" height="5" fill="#fff"/>
<rect x="241.22" y="399" width="3.4" height="5" fill="#fff"/>
<rect x="241.22" y="415" width="3.4" height="5" fill="#fff"/>
<rect x="247" y="399" width="3.4" height="5" fill="#fff"/>
<rect x="247" y="415" width="3.4" height="5" fill="#fff"/>
<rect x="252.78" y="399" width="3.4" height="5" fill="#fff"/>
<rect x="252.78" y="415" width="3.4" height="5" fill="#fff"/>
<rect x="258.56" y="399" width="3.4" height="5" fill="#fff"/>
<rect x="258.56" y="415" width="3.4" height="5" fill="#fff"/>
<rect x="264.34" y="399" width="3.4" height="5" fill="#fff"/>
<rect x="264.34" y="415" width="3.4" height="5" fill="#fff"/>
<rect x="192.5" y="407" width="34.5" height="5" fill="#fff"/>
<rect x="232" y="407" width="33" height="5" fill="#fff"/>
<polygon points="186,407 188.5,409.5 186,412" fill="#fff" stroke="none" stroke-width="1"/>
<rect x="275.5" y="397" width="84.5" height="25" fill="#000"/>
<rect x="278.2" y="399" width="3.4" height="5" fill="#fff"/>
<rect x="278.2" y="415" width="3.4" height="5" fill="#fff"/>
<rect x="284.05" y="399" width="3.4" height="5" fill="#fff"/>
<rect x="284.05" y="415" width="3.4" height="5" fill="#fff"/>
<rect x="289.9" y="399" width="3.4" height="5" fill="#fff"/>
<rect x="289.9" y="415" width="3.4" height="5" fill="#fff"/>
<rect x="295.75" y="399" width="3.4" height="5" fill="#fff"/>
<rect x="295.75" y="415" width="3.4" height="5" fill="#fff"/>
<rect x="301.6" y="399" width="3.4" height="5" fill="#fff"/>
<rect x="301.6" y="415" width="3.4" height="5" fill="#fff"/>
<rect x="307.45" y="399" width="3.4" height="5" fill="#fff"/>
<rect x="307.45" y="415" width="3.4" height="5" fill="#fff"/>
<rect x="313.3" y="399" width="3.4" height="5" fill="#fff"/>
<rect x="313.3" y="415" width="3.4" height="5" fill="#fff"/>
<rect x="319.15" y="399" width="3.4" height="5" fill="#fff"/>
<rect x="319.15" y="415" width="3.4" height="5" fill="#fff"/>
<rect x="325" y="399" width="3.4" height="5" fill="#fff"/>
<rect x="325" y="415" width="3.4" height="5" fill="#fff"/>
<rect x="330.85" y="399" width="3.4" height="5" fill="#fff"/>
<rect x="330.85" y="415" width="3.4" height="5" fill="#fff"/>
<rect x="336.7" y="399" width="3.4" height="5" fill="#fff"/>
<rect x="336.7" y="415" width="3.4" height="5" fill="#fff"/>
<rect x="342.55" y="399" width="3.4" height="5" fill="#fff"/>
<rect x="342.55" y="415" width="3.4" height="5" fill="#fff"/>
<rect x="348.4" y="399" width="3.4" height="5" fill="#fff"/>
<rect x="348.4" y="415" width="3.4" height="5" fill="#fff"/>
<rect x="354.25" y="399" width="3.4" height="5" fill="#fff"/>
<rect x="354.25" y="415" width="3.4" height="5" fill="#fff"/>
<rect x="283" y="407" width="34" height="5" fill="#fff"/>
<rect x="322" y="407" width="33" height="5" fill="#fff"/>
<polygon points="275.5,407 278,409.5 275.5,412" fill="#fff" stroke="none" stroke-width="1"/>
<rect x="115" y="423" width="65" height="25" fill="#000"/>
<rect x="117.2" y="425" width="3.4" height="5" fill="#fff"/>
<rect x="117.2" y="441" width="3.4" height="5" fill="#fff"/>
<rect x="122.96" y="425" width="3.4" height="5" fill="#fff"/>
<rect x="122.96" y="441" width="3.4" height="5" fill="#fff"/>
<rect x="128.72" y="425" width="3.4" height="5" fill="#fff"/>
<rect x="128.72" y="441" width="3.4" height="5" fill="#fff"/>
<rect x="134.48" y="425" width="3.4" height="5" fill="#fff"/>
<rect x="134.48" y="441" width="3.4" height="5" fill="#fff"/>
<rect x="140.24" y="425" width="3.4" height="5" fill="#fff"/>
<rect x="140.24" y="441" width="3.4" height="5" fill="#fff"/>
<rect x="146" y="425" width="3.4" height="5" fill="#fff"/>
<rect x="146" y="441" width="3.4" height="5" fill="#fff"/>
<rect x="151.76" y="425" width="3.4" height="5" fill="#fff"/>
<rect x="151.76" y="441" width="3.4" height="5" fill="#fff"/>
<rect x="157.52" y="425" width="3.4" height="5" fill="#fff"/>
<rect x="157.52" y="441" width="3.4" height="5" fill="#fff"/>
<rect x="163.28" y="425" width="3.4" height="5" fill="#fff"/>
<rect x="163.28" y="441" width="3.4" height="5" fill="#fff"/>
<rect x="169.04" y="425" width="3.4" height="5" fill="#fff"/>
<rect x="169.04" y="441" width="3.4" height="5" fill="#fff"/>
<rect x="174.8" y="425" width="3.4" height="5" fill="#fff"/>
<rect x="174.8" y="441" width="3.4" height="5" fill="#fff"/>
<rect x="122" y="433" width="54" height="5" fill="#fff"/>
<polygon points="115,433 117.5,435.5 115,438" fill="#fff" stroke="none" stroke-width="1"/>
<rect x="186" y="423" width="84" height="25" fill="#000"/>
<rect x="189.2" y="425" width="3.4" height="5" fill="#fff"/>
<rect x="189.2" y="441" width="3.4" height="5" fill="#fff"/>
<rect x="194.98" y="425" width="3.4" height="5" fill="#fff"/>
<rect x="194.98" y="441" width="3.4" height="5" fill="#fff"/>
<rect x="200.76" y="425" width="3.4" height="5" fill="#fff"/>
<rect x="200.76" y="441" width="3.4" height="5" fill="#fff"/>
<rect x="206.54" y="425" width="3.4" height="5" fill="#fff"/>
<rect x="206.54" y="441" width="3.4" height="5" fill="#fff"/>
<rect x="212.32" y="425" width="3.4" height="5" fill="#fff"/>
<rect x="212.32" y="441" width="3.4" height="5" fill="#fff"/>
<rect x="218.1" y="425" width="3.4" height="5" fill="#fff"/>
<rect x="218.1" y="441" width="3.4" height="5" fill="#fff"/>
<rect x="223.88" y="425" width="3.4" height="5" fill="#fff"/>
<rect x="223.88" y="441" width="3.4" height="5" fill="#fff"/>
<rect x="229.66" y="425" width="3.4" height="5" fill="#fff"/>
<rect x="229.66" y="441" width="3.4" height="5" fill="#fff"/>
<rect x="235.44" y="425" width="3.4" height="5" fill="#fff"/>
<rect x="235.44" y="441" width="3.4" height="5" fill="#fff"/>
<rect x="241.22" y="425" width="3.4" height="5" fill="#fff"/>
<rect x="241.22" y="441" width="3.4" height="5" fill="#fff"/>
<rect x="247" y="425" width="3.4" height="5" fill="#fff"/>
<rect x="247" y="441" width="3.4" height="5" fill="#fff"/>
<rect x="252.78" y="425" width="3.4" height="5" fill="#fff"/>
<rect x="252.78" y="441" width="3.4" height="5" fill="#fff"/>
<rect x="258.56" y="425" width="3.4" height="5" fill="#fff"/>
<rect x="258.56" y="441" width="3.4" height="5" fill="#fff"/>
<rect x="264.34" y="425" width="3.4" height="5" fill="#fff"/>
<rect x="264.34" y="441" width="3.4" height="5" fill="#fff"/>
<rect x="192.5" y="433" width="34.5" height="5" fill="#fff"/>
<rect x="232" y="433" width="33" height="5" fill="#fff"/>
<polygon points="186,433 188.5,435.5 186,438" fill="#fff" stroke="none" stroke-width="1"/>
<rect x="275.5" y="423" width="84.5" height="25" fill="#000"/>
<rect x="278.2" y="425" width="3.4" height="5" fill="#fff"/>
<rect x="278.2" y="441" width="3.4" height="5" fill="#fff"/>
<rect x="284.05" y="425" width="3.4" height="5" fill="#fff"/>
<rect x="284.05" y="441" width="3.4" height="5" fill="#fff"/>
<rect x="289.9" y="425" width="3.4" height="5" fill="#fff"/>
<rect x="289.9" y="441" width="3.4" height="5" fill="#fff"/>
<rect x="295.75" y="425" width="3.4" height="5" fill="#fff"/>
<rect x="295.75" y="441" width="3.4" height="5" fill="#fff"/>
<rect x="301.6" y="425" width="3.4" height="5" fill="#fff"/>
<rect x="301.6" y="441" width="3.4" height="5" fill="#fff"/>
<rect x="307.45" y="425" width="3.4" height="5" fill="#fff"/>
<rect x="307.45" y="441" width="3.4" height="5" fill="#fff"/>
<rect x="313.3" y="425" width="3.4" height="5" fill="#fff"/>
<rect x="313.3" y="441" width="3.4" height="5" fill="#fff"/>
<rect x="319.15" y="425" width="3.4" height="5" fill="#fff"/>
<rect x="319.15" y="441" width="3.4" height="5" fill="#fff"/>
<rect x="325" y="425" width="3.4" height="5" fill="#fff"/>
<rect x="325" y="441" width="3.4" height="5" fill="#fff"/>
<rect x="330.85" y="425" width="3.4" height="5" fill="#fff"/>
<rect x="330.85" y="441" width="3.4" height="5" fill="#fff"/>
<rect x="336.7" y="425" width="3.4" height="5" fill="#fff"/>
<rect x="336.7" y="441" width="3.4" height="5" fill="#fff"/>
<rect x="342.55" y="425" width="3.4" height="5" fill="#fff"/>
<rect x="342.55" y="441" width="3.4" height="5" fill="#fff"/>
<rect x="348.4" y="425" width="3.4" height="5" fill="#fff"/>
<rect x="348.4" y="441" width="3.4" height="5" fill="#fff"/>
<rect x="354.25" y="425" width="3.4" height="5" fill="#fff"/>
<rect x="354.25" y="441" width="3.4" height="5" fill="#fff"/>
<rect x="283" y="433" width="34" height="5" fill="#fff"/>
<rect x="322" y="433" width="33" height="5" fill="#fff"/>
<polygon points="275.5,433 278,435.5 275.5,438" fill="#fff" stroke="none" stroke-width="1"/>
<rect x="115" y="449" width="65" height="25" fill="#000"/>
<rect x="117.2" y="451" width="3.4" height="5" fill="#fff"/>
<rect x="117.2" y="467" width="3.4" height="5" fill="#fff"/>
<rect x="122.96" y="451" width="3.4" height="5" fill="#fff"/>
<rect x="122.96" y="467" width="3.4" height="5" fill="#fff"/>
<rect x="128.72" y="451" width="3.4" height="5" fill="#fff"/>
<rect x="128.72" y="467" width="3.4" height="5" fill="#fff"/>
<rect x="134.48" y="451" width="3.4" height="5" fill="#fff"/>
<rect x="134.48" y="467" width="3.4" height="5" fill="#fff"/>
<rect x="140.24" y="451" width="3.4" height="5" fill="#fff"/>
<rect x="140.24" y="467" width="3.4" height="5" fill="#fff"/>
<rect x="146" y="451" width="3.4" height="5" fill="#fff"/>
<rect x="146" y="467" width="3.4" height="5" fill="#fff"/>
<rect x="151.76" y="451" width="3.4" height="5" fill="#fff"/>
<rect x="151.76" y="467" width="3.4" height="5" fill="#fff"/>
<rect x="157.52" y="451" width="3.4" height="5" fill="#fff"/>
<rect x="157.52" y="467" width="3.4" height="5" fill="#fff"/>
<rect x="163.28" y="451" width="3.4" height="5" fill="#fff"/>
<rect x="163.28" y="467" width="3.4" height="5" fill="#fff"/>
<rect x="169.04" y="451" width="3.4" height="5" fill="#fff"/>
<rect x="169.04" y="467" width="3.4" height="5" fill="#fff"/>
<rect x="174.8" y="451" width="3.4" height="5" fill="#fff"/>
<rect x="174.8" y="467" width="3.4" height="5" fill="#fff"/>
<rect x="122" y="459" width="54" height="5" fill="#fff"/>
<polygon points="115,459 117.5,461.5 115,464" fill="#fff" stroke="none" stroke-width="1"/>
<rect x="186" y="449" width="84" height="25" fill="#000"/>
<rect x="189.2" y="451" width="3.4" height="5" fill="#fff"/>
<rect x="189.2" y="467" width="3.4" height="5" fill="#fff"/>
<rect x="194.98" y="451" width="3.4" height="5" fill="#fff"/>
<rect x="194.98" y="467" width="3.4" height="5" fill="#fff"/>
<rect x="200.76" y="451" width="3.4" height="5" fill="#fff"/>
<rect x="200.76" y="467" width="3.4" height="5" fill="#fff"/>
<rect x="206.54" y="451" width="3.4" height="5" fill="#fff"/>
<rect x="206.54" y="467" width="3.4" height="5" fill="#fff"/>
<rect x="212.32" y="451" width="3.4" height="5" fill="#fff"/>
<rect x="212.32" y="467" width="3.4" height="5" fill="#fff"/>
<rect x="218.1" y="451" width="3.4" height="5" fill="#fff"/>
<rect x="218.1" y="467" width="3.4" height="5" fill="#fff"/>
<rect x="223.88" y="451" width="3.4" height="5" fill="#fff"/>
<rect x="223.88" y="467" width="3.4" height="5" fill="#fff"/>
<rect x="229.66" y="451" width="3.4" height="5" fill="#fff"/>
<rect x="229.66" y="467" width="3.4" height="5" fill="#fff"/>
<rect x="235.44" y="451" width="3.4" height="5" fill="#fff"/>
<rect x="235.44" y="467" width="3.4" height="5" fill="#fff"/>
<rect x="241.22" y="451" width="3.4" height="5" fill="#fff"/>
<rect x="241.22" y="467" width="3.4" height="5" fill="#fff"/>
<rect x="247" y="451" width="3.4" height="5" fill="#fff"/>
<rect x="247" y="467" width="3.4" height="5" fill="#fff"/>
<rect x="252.78" y="451" width="3.4" height="5" fill="#fff"/>
<rect x="252.78" y="467" width="3.4" height="5" fill="#fff"/>
<rect x="258.56" y="451" width="3.4" height="5" fill="#fff"/>
<rect x="258.56" y="467" width="3.4" height="5" fill="#fff"/>
<rect x="264.34" y="451" width="3.4" height="5" fill="#fff"/>
<rect x="264.34" y="467" width="3.4" height="5" fill="#fff"/>
<rect x="192.5" y="459" width="34.5" height="5" fill="#fff"/>
<rect x="232" y="459" width="33" height="5" fill="#fff"/>
<polygon points="186,459 188.5,461.5 186,464" fill="#fff" stroke="none" stroke-width="1"/>
<rect x="275.5" y="449" width="84.5" height="25" fill="#000"/>
<rect x="278.2" y="451" width="3.4" height="5" fill="#fff"/>
<rect x="278.2" y="467" width="3.4" height="5" fill="#fff"/>
<rect x="284.05" y="451" width="3.4" height="5" fill="#fff"/>
<rect x="284.05" y="467" width="3.4" height="5" fill="#fff"/>
<rect x="289.9" y="451" width="3.4" height="5" fill="#fff"/>
<rect x="289.9" y="467" width="3.4" height="5" fill="#fff"/>
<rect x="295.75" y="451" width="3.4" height="5" fill="#fff"/>
<rect x="295.75" y="467" width="3.4" height="5" fill="#fff"/>
<rect x="301.6" y="451" width="3.4" height="5" fill="#fff"/>
<rect x="301.6" y="467" width="3.4" height="5" fill="#fff"/>
<rect x="307.45" y="451" width="3.4" height="5" fill="#fff"/>
<rect x="307.45" y="467" width="3.4" height="5" fill="#fff"/>
<rect x="313.3" y="451" width="3.4" height="5" fill="#fff"/>
<rect x="313.3" y="467" width="3.4" height="5" fill="#fff"/>
<rect x="319.15" y="451" width="3.4" height="5" fill="#fff"/>
<rect x="319.15" y="467" width="3.4" height="5" fill="#fff"/>
<rect x="325" y="451" width="3.4" height="5" fill="#fff"/>
<rect x="325" y="467" width="3.4" height="5" fill="#fff"/>
<rect x="330.85" y="451" width="3.4" height="5" fill="#fff"/>
<rect x="330.85" y="467" width="3.4" height="5" fill="#fff"/>
<rect x="336.7" y="451" width="3.4" height="5" fill="#fff"/>
<rect x="336.7" y="467" width="3.4" height="5" fill="#fff"/>
<rect x="342.55" y="451" width="3.4" height="5" fill="#fff"/>
<rect x="342.55" y="467" width="3.4" height="5" fill="#fff"/>
<rect x="348.4" y="451" width="3.4" height="5" fill="#fff"/>
<rect x="348.4" y="467" width="3.4" height="5" fill="#fff"/>
<rect x="354.25" y="451" width="3.4" height="5" fill="#fff"/>
<rect x="354.25" y="467" width="3.4" height="5" fill="#fff"/>
<rect x="283" y="459" width="34" height="5" fill="#fff"/>
<rect x="322" y="459" width="33" height="5" fill="#fff"/>
<polygon points="275.5,459 278,461.5 275.5,464" fill="#fff" stroke="none" stroke-width="1"/>
<rect x="115" y="475" width="65" height="25.4" fill="#000"/>
<rect x="117.2" y="477" width="3.4" height="5" fill="#fff"/>
<rect x="117.2" y="493" width="3.4" height="5" fill="#fff"/>
<rect x="122.96" y="477" width="3.4" height="5" fill="#fff"/>
<rect x="122.96" y="493" width="3.4" height="5" fill="#fff"/>
<rect x="128.72" y="477" width="3.4" height="5" fill="#fff"/>
<rect x="128.72" y="493" width="3.4" height="5" fill="#fff"/>
<rect x="134.48" y="477" width="3.4" height="5" fill="#fff"/>
<rect x="134.48" y="493" width="3.4" height="5" fill="#fff"/>
<rect x="140.24" y="477" width="3.4" height="5" fill="#fff"/>
<rect x="140.24" y="493" width="3.4" height="5" fill="#fff"/>
<rect x="146" y="477" width="3.4" height="5" fill="#fff"/>
<rect x="146" y="493" width="3.4" height="5" fill="#fff"/>
<rect x="151.76" y="477" width="3.4" height="5" fill="#fff"/>
<rect x="151.76" y="493" width="3.4" height="5" fill="#fff"/>
<rect x="157.52" y="477" width="3.4" height="5" fill="#fff"/>
<rect x="157.52" y="493" width="3.4" height="5" fill="#fff"/>
<rect x="163.28" y="477" width="3.4" height="5" fill="#fff"/>
<rect x="163.28" y="493" width="3.4" height="5" fill="#fff"/>
<rect x="169.04" y="477" width="3.4" height="5" fill="#fff"/>
<rect x="169.04" y="493" width="3.4" height="5" fill="#fff"/>
<rect x="174.8" y="477" width="3.4" height="5" fill="#fff"/>
<rect x="174.8" y="493" width="3.4" height="5" fill="#fff"/>
<rect x="122" y="485" width="54" height="5" fill="#fff"/>
<polygon points="115,485 117.5,487.5 115,490" fill="#fff" stroke="none" stroke-width="1"/>
<rect x="186" y="475" width="84" height="25.4" fill="#000"/>
<rect x="189.2" y="477" width="3.4" height="5" fill="#fff"/>
<rect x="189.2" y="493" width="3.4" height="5" fill="#fff"/>
<rect x="194.98" y="477" width="3.4" height="5" fill="#fff"/>
<rect x="194.98" y="493" width="3.4" height="5" fill="#fff"/>
<rect x="200.76" y="477" width="3.4" height="5" fill="#fff"/>
<rect x="200.76" y="493" width="3.4" height="5" fill="#fff"/>
<rect x="206.54" y="477" width="3.4" height="5" fill="#fff"/>
<rect x="206.54" y="493" width="3.4" height="5" fill="#fff"/>
<rect x="212.32" y="477" width="3.4" height="5" fill="#fff"/>
<rect x="212.32" y="493" width="3.4" height="5" fill="#fff"/>
<rect x="218.1" y="477" width="3.4" height="5" fill="#fff"/>
<rect x="218.1" y="493" width="3.4" height="5" fill="#fff"/>
<rect x="223.88" y="477" width="3.4" height="5" fill="#fff"/>
<rect x="223.88" y="493" width="3.4" height="5" fill="#fff"/>
<rect x="229.66" y="477" width="3.4" height="5" fill="#fff"/>
<rect x="229.66" y="493" width="3.4" height="5" fill="#fff"/>
<rect x="235.44" y="477" width="3.4" height="5" fill="#fff"/>
<rect x="235.44" y="493" width="3.4" height="5" fill="#fff"/>
<rect x="241.22" y="477" width="3.4" height="5" fill="#fff"/>
<rect x="241.22" y="493" width="3.4" height="5" fill="#fff"/>
<rect x="247" y="477" width="3.4" height="5" fill="#fff"/>
<rect x="247" y="493" width="3.4" height="5" fill="#fff"/>
<rect x="252.78" y="477" width="3.4" height="5" fill="#fff"/>
<rect x="252.78" y="493" width="3.4" height="5" fill="#fff"/>
<rect x="258.56" y="477" width="3.4" height="5" fill="#fff"/>
<rect x="258.56" y="493" width="3.4" height="5" fill="#fff"/>
<rect x="264.34" y="477" width="3.4" height="5" fill="#fff"/>
<rect x="264.34" y="493" width="3.4" height="5" fill="#fff"/>
<rect x="192.5" y="485" width="34.5" height="5" fill="#fff"/>
<rect x="232" y="485" width="33" height="5" fill="#fff"/>
<polygon points="186,485 188.5,487.5 186,490" fill="#fff" stroke="none" stroke-width="1"/>
<rect x="275.5" y="475" width="84.5" height="25.4" fill="#000"/>
<rect x="278.2" y="477" width="3.4" height="5" fill="#fff"/>
<rect x="278.2" y="493" width="3.4" height="5" fill="#fff"/>
<rect x="284.05" y="477" width="3.4" height="5" fill="#fff"/>
<rect x="284.05" y="493" width="3.4" height="5" fill="#fff"/>
<rect x="289.9" y="477" width="3.4" height="5" fill="#fff"/>
<rect x="289.9" y="493" width="3.4" height="5" fill="#fff"/>
<rect x="295.75" y="477" width="3.4" height="5" fill="#fff"/>
<rect x="295.75" y="493" width="3.4" height="5" fill="#fff"/>
<rect x="301.6" y="477" width="3.4" height="5" fill="#fff"/>
<rect x="301.6" y="493" width="3.4" height="5" fill="#fff"/>
<rect x="307.45" y="477" width="3.4" height="5" fill="#fff"/>
<rect x="307.45" y="493" width="3.4" height="5" fill="#fff"/>
<rect x="313.3" y="477" width="3.4" height="5" fill="#fff"/>
<rect x="313.3" y="493" width="3.4" height="5" fill="#fff"/>
<rect x="319.15" y="477" width="3.4" height="5" fill="#fff"/>
<rect x="319.15" y="493" width="3.4" height="5" fill="#fff"/>
<rect x="325" y="477" width="3.4" height="5" fill="#fff"/>
<rect x="325" y="493" width="3.4" height="5" fill="#fff"/>
<rect x="330.85" y="477" width="3.4" height="5" fill="#fff"/>
<rect x="330.85" y="493" width="3.4" height="5" fill="#fff"/>
<rect x="336.7" y="477" width="3.4" height="5" fill="#fff"/>
<rect x="336.7" y="493" width="3.4" height="5" fill="#fff"/>
<rect x="342.55" y="477" width="3.4" height="5" fill="#fff"/>
<rect x="342.55" y="493" width="3.4" height="5" fill="#fff"/>
<rect x="348.4" y="477" width="3.4" height="5" fill="#fff"/>
<rect x="348.4" y="493" width="3.4" height="5" fill="#fff"/>
<rect x="354.25" y="477" width="3.4" height="5" fill="#fff"/>
<rect x="354.25" y="493" width="3.4" height="5" fill="#fff"/>
<rect x="283" y="485" width="34" height="5" fill="#fff"/>
<rect x="322" y="485" width="33" height="5" fill="#fff"/>
<polygon points="275.5,485 278,487.5 275.5,490" fill="#fff" stroke="none" stroke-width="1"/>
<rect x="115" y="473" width="65" height="3" fill="#000"/>
<rect x="135.5" y="400" width="25.5" height="19" fill="#000"/>
<rect x="137.3" y="401.5" width="22.4" height="16.2" rx="3.5" fill="#fff" stroke="#000" stroke-width="1.7" shape-rendering="geometricPrecision"/>
<text x="148.5" y="414.5" font-size="13.5" text-anchor="middle" letter-spacing="0" textLength="17.5" lengthAdjust="spacingAndGlyphs">U4</text>
<rect x="135.5" y="426" width="25.5" height="19" fill="#000"/>
<rect x="137.3" y="427.8" width="22.4" height="15.4" rx="3.5" fill="#fff" stroke="#000" stroke-width="1.7" shape-rendering="geometricPrecision"/>
<text x="148.5" y="440.4" font-size="13.5" text-anchor="middle" letter-spacing="0" textLength="17.5" lengthAdjust="spacingAndGlyphs">U8</text>
<rect x="130.5" y="452" width="35" height="19" fill="#000"/>
<rect x="132.7" y="454.3" width="30.3" height="14.5" rx="3.5" fill="#fff" stroke="#000" stroke-width="1.7" shape-rendering="geometricPrecision"/>
<text x="147.85" y="466.45" font-size="13.5" text-anchor="middle" letter-spacing="0" textLength="23" lengthAdjust="spacingAndGlyphs">U12</text>
<rect x="131.5" y="478" width="34.5" height="19" fill="#000"/>
<rect x="133.8" y="480.5" width="29.5" height="14.7" rx="3.5" fill="#fff" stroke="#000" stroke-width="1.7" shape-rendering="geometricPrecision"/>
<text x="148.55" y="492.75" font-size="13.5" text-anchor="middle" letter-spacing="0" textLength="22.5" lengthAdjust="spacingAndGlyphs">U16</text>
<rect x="198" y="440" width="59" height="18" fill="#000"/>
<rect x="200" y="442" width="55" height="14.5" rx="3.5" fill="#fff" stroke="#000" stroke-width="1.7" shape-rendering="geometricPrecision"/>
<text x="227.5" y="454.15" font-size="13.5" text-anchor="middle" letter-spacing="0" textLength="47" lengthAdjust="spacingAndGlyphs">BANK 2</text>
<rect x="288" y="440" width="60" height="18" fill="#000"/>
<rect x="290" y="442" width="56" height="14" rx="3.5" fill="#fff" stroke="#000" stroke-width="1.7" shape-rendering="geometricPrecision"/>
<text x="318" y="453.9" font-size="13.5" text-anchor="middle" letter-spacing="0" textLength="47" lengthAdjust="spacingAndGlyphs">BANK 1</text>
<rect x="452" y="351" width="226" height="1" fill="#000"/>
<rect x="452" y="369" width="226" height="1" fill="#000"/>
<rect x="452" y="351" width="8" height="8" fill="#000"/>
<rect x="453" y="352" width="6" height="6" fill="#fff"/>
<rect x="451" y="358" width="9" height="9" fill="#000"/>
<rect x="452" y="359" width="7" height="7" fill="#fff"/>
<rect x="452" y="366" width="8" height="4" fill="#000"/>
<rect x="453" y="367" width="6" height="2" fill="#fff"/>
<rect x="459" y="351" width="4" height="19" fill="#000"/>
<polyline points="463,353.5 469.5,353.5 469.5,356.5 472.5,356.5 472.5,366.5 463,366.5" fill="none" stroke="#000" stroke-width="1"/>
<polyline points="463,356.5 465.5,356.5 465.5,359.5 469.5,359.5 469.5,356.5" fill="none" stroke="#000" stroke-width="1"/>
<rect x="477" y="353" width="174.5" height="14.5" fill="#000"/>
<rect x="480" y="360" width="4.4" height="6" fill="#fff"/>
<rect x="481.5" y="354" width="1.2" height="5" fill="#fff"/>
<rect x="478.5" y="366.5" width="1.2" height="1" fill="#fff"/>
<rect x="486.1" y="360" width="4.4" height="6" fill="#fff"/>
<rect x="487.6" y="354" width="1.2" height="5" fill="#fff"/>
<rect x="484.6" y="366.5" width="1.2" height="1" fill="#fff"/>
<rect x="492.2" y="360" width="4.4" height="6" fill="#fff"/>
<rect x="493.7" y="354" width="1.2" height="5" fill="#fff"/>
<rect x="490.7" y="366.5" width="1.2" height="1" fill="#fff"/>
<rect x="498.3" y="360" width="4.4" height="6" fill="#fff"/>
<rect x="499.8" y="354" width="1.2" height="5" fill="#fff"/>
<rect x="496.8" y="366.5" width="1.2" height="1" fill="#fff"/>
<rect x="504.4" y="360" width="4.4" height="6" fill="#fff"/>
<rect x="505.9" y="354" width="1.2" height="5" fill="#fff"/>
<rect x="502.9" y="366.5" width="1.2" height="1" fill="#fff"/>
<rect x="510.5" y="360" width="4.4" height="6" fill="#fff"/>
<rect x="512" y="354" width="1.2" height="5" fill="#fff"/>
<rect x="509" y="366.5" width="1.2" height="1" fill="#fff"/>
<rect x="516.6" y="360" width="4.4" height="6" fill="#fff"/>
<rect x="518.1" y="354" width="1.2" height="5" fill="#fff"/>
<rect x="515.1" y="366.5" width="1.2" height="1" fill="#fff"/>
<rect x="522.7" y="360" width="4.4" height="6" fill="#fff"/>
<rect x="524.2" y="354" width="1.2" height="5" fill="#fff"/>
<rect x="521.2" y="366.5" width="1.2" height="1" fill="#fff"/>
<rect x="528.8" y="360" width="4.4" height="6" fill="#fff"/>
<rect x="530.3" y="354" width="1.2" height="5" fill="#fff"/>
<rect x="527.3" y="366.5" width="1.2" height="1" fill="#fff"/>
<rect x="534.9" y="360" width="4.4" height="6" fill="#fff"/>
<rect x="536.4" y="354" width="1.2" height="5" fill="#fff"/>
<rect x="533.4" y="366.5" width="1.2" height="1" fill="#fff"/>
<rect x="541" y="360" width="4.4" height="6" fill="#fff"/>
<rect x="542.5" y="354" width="1.2" height="5" fill="#fff"/>
<rect x="539.5" y="366.5" width="1.2" height="1" fill="#fff"/>
<rect x="547.1" y="360" width="4.4" height="6" fill="#fff"/>
<rect x="548.6" y="354" width="1.2" height="5" fill="#fff"/>
<rect x="545.6" y="366.5" width="1.2" height="1" fill="#fff"/>
<rect x="553.2" y="360" width="4.4" height="6" fill="#fff"/>
<rect x="554.7" y="354" width="1.2" height="5" fill="#fff"/>
<rect x="551.7" y="366.5" width="1.2" height="1" fill="#fff"/>
<rect x="559.3" y="360" width="4.4" height="6" fill="#fff"/>
<rect x="560.8" y="354" width="1.2" height="5" fill="#fff"/>
<rect x="557.8" y="366.5" width="1.2" height="1" fill="#fff"/>
<rect x="565.4" y="360" width="4.4" height="6" fill="#fff"/>
<rect x="566.9" y="354" width="1.2" height="5" fill="#fff"/>
<rect x="563.9" y="366.5" width="1.2" height="1" fill="#fff"/>
<rect x="571.5" y="360" width="4.4" height="6" fill="#fff"/>
<rect x="573" y="354" width="1.2" height="5" fill="#fff"/>
<rect x="570" y="366.5" width="1.2" height="1" fill="#fff"/>
<rect x="577.6" y="360" width="4.4" height="6" fill="#fff"/>
<rect x="579.1" y="354" width="1.2" height="5" fill="#fff"/>
<rect x="576.1" y="366.5" width="1.2" height="1" fill="#fff"/>
<rect x="583.7" y="360" width="4.4" height="6" fill="#fff"/>
<rect x="585.2" y="354" width="1.2" height="5" fill="#fff"/>
<rect x="582.2" y="366.5" width="1.2" height="1" fill="#fff"/>
<rect x="589.8" y="360" width="4.4" height="6" fill="#fff"/>
<rect x="591.3" y="354" width="1.2" height="5" fill="#fff"/>
<rect x="588.3" y="366.5" width="1.2" height="1" fill="#fff"/>
<rect x="595.9" y="360" width="4.4" height="6" fill="#fff"/>
<rect x="597.4" y="354" width="1.2" height="5" fill="#fff"/>
<rect x="594.4" y="366.5" width="1.2" height="1" fill="#fff"/>
<rect x="602" y="360" width="4.4" height="6" fill="#fff"/>
<rect x="603.5" y="354" width="1.2" height="5" fill="#fff"/>
<rect x="600.5" y="366.5" width="1.2" height="1" fill="#fff"/>
<rect x="608.1" y="360" width="4.4" height="6" fill="#fff"/>
<rect x="609.6" y="354" width="1.2" height="5" fill="#fff"/>
<rect x="606.6" y="366.5" width="1.2" height="1" fill="#fff"/>
<rect x="614.2" y="360" width="4.4" height="6" fill="#fff"/>
<rect x="615.7" y="354" width="1.2" height="5" fill="#fff"/>
<rect x="612.7" y="366.5" width="1.2" height="1" fill="#fff"/>
<rect x="620.3" y="360" width="4.4" height="6" fill="#fff"/>
<rect x="621.8" y="354" width="1.2" height="5" fill="#fff"/>
<rect x="618.8" y="366.5" width="1.2" height="1" fill="#fff"/>
<rect x="626.4" y="360" width="4.4" height="6" fill="#fff"/>
<rect x="627.9" y="354" width="1.2" height="5" fill="#fff"/>
<rect x="624.9" y="366.5" width="1.2" height="1" fill="#fff"/>
<rect x="632.5" y="360" width="4.4" height="6" fill="#fff"/>
<rect x="634" y="354" width="1.2" height="5" fill="#fff"/>
<rect x="631" y="366.5" width="1.2" height="1" fill="#fff"/>
<rect x="638.6" y="360" width="4.4" height="6" fill="#fff"/>
<rect x="640.1" y="354" width="1.2" height="5" fill="#fff"/>
<rect x="637.1" y="366.5" width="1.2" height="1" fill="#fff"/>
<rect x="644.7" y="360" width="4.4" height="6" fill="#fff"/>
<rect x="646.2" y="354" width="1.2" height="5" fill="#fff"/>
<rect x="643.2" y="366.5" width="1.2" height="1" fill="#fff"/>
<polyline points="666.5,353.5 659.5,353.5 659.5,356.5 656.5,356.5 656.5,366.5 666.5,366.5" fill="none" stroke="#000" stroke-width="1"/>
<polyline points="659.5,356.5 659.5,359.5 663.5,359.5 663.5,356.5" fill="none" stroke="#000" stroke-width="1"/>
<rect x="663" y="355" width="3" height="2" fill="#000"/>
<rect x="665" y="356" width="2" height="11" fill="#000"/>
<rect x="668" y="352" width="1.5" height="17" fill="#000"/>
<rect x="670" y="351" width="8" height="8" fill="#000"/>
<rect x="671" y="352" width="6" height="6" fill="#fff"/>
<rect x="670" y="358" width="8" height="9" fill="#000"/>
<rect x="671" y="359" width="6" height="7" fill="#fff"/>
<rect x="670" y="366" width="8" height="4" fill="#000"/>
<rect x="671" y="367" width="6" height="2" fill="#fff"/>
<rect x="452" y="371" width="226" height="1" fill="#000"/>
<rect x="452" y="389" width="226" height="1" fill="#000"/>
<rect x="452" y="371" width="8" height="8" fill="#000"/>
<rect x="453" y="372" width="6" height="6" fill="#fff"/>
<rect x="451" y="378" width="9" height="9" fill="#000"/>
<rect x="452" y="379" width="7" height="7" fill="#fff"/>
<rect x="452" y="386" width="8" height="4" fill="#000"/>
<rect x="453" y="387" width="6" height="2" fill="#fff"/>
<rect x="459" y="371" width="4" height="19" fill="#000"/>
<polyline points="463,373.5 469.5,373.5 469.5,376.5 472.5,376.5 472.5,386.5 463,386.5" fill="none" stroke="#000" stroke-width="1"/>
<polyline points="463,376.5 465.5,376.5 465.5,379.5 469.5,379.5 469.5,376.5" fill="none" stroke="#000" stroke-width="1"/>
<rect x="477" y="373" width="174.5" height="14.5" fill="#000"/>
<rect x="480" y="380" width="4.4" height="6" fill="#fff"/>
<rect x="481.5" y="374" width="1.2" height="5" fill="#fff"/>
<rect x="478.5" y="386.5" width="1.2" height="1" fill="#fff"/>
<rect x="486.1" y="380" width="4.4" height="6" fill="#fff"/>
<rect x="487.6" y="374" width="1.2" height="5" fill="#fff"/>
<rect x="484.6" y="386.5" width="1.2" height="1" fill="#fff"/>
<rect x="492.2" y="380" width="4.4" height="6" fill="#fff"/>
<rect x="493.7" y="374" width="1.2" height="5" fill="#fff"/>
<rect x="490.7" y="386.5" width="1.2" height="1" fill="#fff"/>
<rect x="498.3" y="380" width="4.4" height="6" fill="#fff"/>
<rect x="499.8" y="374" width="1.2" height="5" fill="#fff"/>
<rect x="496.8" y="386.5" width="1.2" height="1" fill="#fff"/>
<rect x="504.4" y="380" width="4.4" height="6" fill="#fff"/>
<rect x="505.9" y="374" width="1.2" height="5" fill="#fff"/>
<rect x="502.9" y="386.5" width="1.2" height="1" fill="#fff"/>
<rect x="510.5" y="380" width="4.4" height="6" fill="#fff"/>
<rect x="512" y="374" width="1.2" height="5" fill="#fff"/>
<rect x="509" y="386.5" width="1.2" height="1" fill="#fff"/>
<rect x="516.6" y="380" width="4.4" height="6" fill="#fff"/>
<rect x="518.1" y="374" width="1.2" height="5" fill="#fff"/>
<rect x="515.1" y="386.5" width="1.2" height="1" fill="#fff"/>
<rect x="522.7" y="380" width="4.4" height="6" fill="#fff"/>
<rect x="524.2" y="374" width="1.2" height="5" fill="#fff"/>
<rect x="521.2" y="386.5" width="1.2" height="1" fill="#fff"/>
<rect x="528.8" y="380" width="4.4" height="6" fill="#fff"/>
<rect x="530.3" y="374" width="1.2" height="5" fill="#fff"/>
<rect x="527.3" y="386.5" width="1.2" height="1" fill="#fff"/>
<rect x="534.9" y="380" width="4.4" height="6" fill="#fff"/>
<rect x="536.4" y="374" width="1.2" height="5" fill="#fff"/>
<rect x="533.4" y="386.5" width="1.2" height="1" fill="#fff"/>
<rect x="541" y="380" width="4.4" height="6" fill="#fff"/>
<rect x="542.5" y="374" width="1.2" height="5" fill="#fff"/>
<rect x="539.5" y="386.5" width="1.2" height="1" fill="#fff"/>
<rect x="547.1" y="380" width="4.4" height="6" fill="#fff"/>
<rect x="548.6" y="374" width="1.2" height="5" fill="#fff"/>
<rect x="545.6" y="386.5" width="1.2" height="1" fill="#fff"/>
<rect x="553.2" y="380" width="4.4" height="6" fill="#fff"/>
<rect x="554.7" y="374" width="1.2" height="5" fill="#fff"/>
<rect x="551.7" y="386.5" width="1.2" height="1" fill="#fff"/>
<rect x="559.3" y="380" width="4.4" height="6" fill="#fff"/>
<rect x="560.8" y="374" width="1.2" height="5" fill="#fff"/>
<rect x="557.8" y="386.5" width="1.2" height="1" fill="#fff"/>
<rect x="565.4" y="380" width="4.4" height="6" fill="#fff"/>
<rect x="566.9" y="374" width="1.2" height="5" fill="#fff"/>
<rect x="563.9" y="386.5" width="1.2" height="1" fill="#fff"/>
<rect x="571.5" y="380" width="4.4" height="6" fill="#fff"/>
<rect x="573" y="374" width="1.2" height="5" fill="#fff"/>
<rect x="570" y="386.5" width="1.2" height="1" fill="#fff"/>
<rect x="577.6" y="380" width="4.4" height="6" fill="#fff"/>
<rect x="579.1" y="374" width="1.2" height="5" fill="#fff"/>
<rect x="576.1" y="386.5" width="1.2" height="1" fill="#fff"/>
<rect x="583.7" y="380" width="4.4" height="6" fill="#fff"/>
<rect x="585.2" y="374" width="1.2" height="5" fill="#fff"/>
<rect x="582.2" y="386.5" width="1.2" height="1" fill="#fff"/>
<rect x="589.8" y="380" width="4.4" height="6" fill="#fff"/>
<rect x="591.3" y="374" width="1.2" height="5" fill="#fff"/>
<rect x="588.3" y="386.5" width="1.2" height="1" fill="#fff"/>
<rect x="595.9" y="380" width="4.4" height="6" fill="#fff"/>
<rect x="597.4" y="374" width="1.2" height="5" fill="#fff"/>
<rect x="594.4" y="386.5" width="1.2" height="1" fill="#fff"/>
<rect x="602" y="380" width="4.4" height="6" fill="#fff"/>
<rect x="603.5" y="374" width="1.2" height="5" fill="#fff"/>
<rect x="600.5" y="386.5" width="1.2" height="1" fill="#fff"/>
<rect x="608.1" y="380" width="4.4" height="6" fill="#fff"/>
<rect x="609.6" y="374" width="1.2" height="5" fill="#fff"/>
<rect x="606.6" y="386.5" width="1.2" height="1" fill="#fff"/>
<rect x="614.2" y="380" width="4.4" height="6" fill="#fff"/>
<rect x="615.7" y="374" width="1.2" height="5" fill="#fff"/>
<rect x="612.7" y="386.5" width="1.2" height="1" fill="#fff"/>
<rect x="620.3" y="380" width="4.4" height="6" fill="#fff"/>
<rect x="621.8" y="374" width="1.2" height="5" fill="#fff"/>
<rect x="618.8" y="386.5" width="1.2" height="1" fill="#fff"/>
<rect x="626.4" y="380" width="4.4" height="6" fill="#fff"/>
<rect x="627.9" y="374" width="1.2" height="5" fill="#fff"/>
<rect x="624.9" y="386.5" width="1.2" height="1" fill="#fff"/>
<rect x="632.5" y="380" width="4.4" height="6" fill="#fff"/>
<rect x="634" y="374" width="1.2" height="5" fill="#fff"/>
<rect x="631" y="386.5" width="1.2" height="1" fill="#fff"/>
<rect x="638.6" y="380" width="4.4" height="6" fill="#fff"/>
<rect x="640.1" y="374" width="1.2" height="5" fill="#fff"/>
<rect x="637.1" y="386.5" width="1.2" height="1" fill="#fff"/>
<rect x="644.7" y="380" width="4.4" height="6" fill="#fff"/>
<rect x="646.2" y="374" width="1.2" height="5" fill="#fff"/>
<rect x="643.2" y="386.5" width="1.2" height="1" fill="#fff"/>
<polyline points="666.5,373.5 659.5,373.5 659.5,376.5 656.5,376.5 656.5,386.5 666.5,386.5" fill="none" stroke="#000" stroke-width="1"/>
<polyline points="659.5,376.5 659.5,379.5 663.5,379.5 663.5,376.5" fill="none" stroke="#000" stroke-width="1"/>
<rect x="663" y="375" width="3" height="2" fill="#000"/>
<rect x="665" y="376" width="2" height="11" fill="#000"/>
<rect x="668" y="372" width="1.5" height="17" fill="#000"/>
<rect x="670" y="371" width="8" height="8" fill="#000"/>
<rect x="671" y="372" width="6" height="6" fill="#fff"/>
<rect x="670" y="378" width="8" height="9" fill="#000"/>
<rect x="671" y="379" width="6" height="7" fill="#fff"/>
<rect x="670" y="386" width="8" height="4" fill="#000"/>
<rect x="671" y="387" width="6" height="2" fill="#fff"/>
<rect x="452" y="391" width="226" height="1" fill="#000"/>
<rect x="452" y="409" width="226" height="1" fill="#000"/>
<rect x="452" y="391" width="8" height="8" fill="#000"/>
<rect x="453" y="392" width="6" height="6" fill="#fff"/>
<rect x="451" y="398" width="9" height="9" fill="#000"/>
<rect x="452" y="399" width="7" height="7" fill="#fff"/>
<rect x="452" y="406" width="8" height="4" fill="#000"/>
<rect x="453" y="407" width="6" height="2" fill="#fff"/>
<rect x="459" y="391" width="4" height="19" fill="#000"/>
<polyline points="463,393.5 469.5,393.5 469.5,396.5 472.5,396.5 472.5,406.5 463,406.5" fill="none" stroke="#000" stroke-width="1"/>
<polyline points="463,396.5 465.5,396.5 465.5,399.5 469.5,399.5 469.5,396.5" fill="none" stroke="#000" stroke-width="1"/>
<rect x="477" y="393" width="174.5" height="14.5" fill="#000"/>
<rect x="480" y="400" width="4.4" height="6" fill="#fff"/>
<rect x="481.5" y="394" width="1.2" height="5" fill="#fff"/>
<rect x="478.5" y="406.5" width="1.2" height="1" fill="#fff"/>
<rect x="486.1" y="400" width="4.4" height="6" fill="#fff"/>
<rect x="487.6" y="394" width="1.2" height="5" fill="#fff"/>
<rect x="484.6" y="406.5" width="1.2" height="1" fill="#fff"/>
<rect x="492.2" y="400" width="4.4" height="6" fill="#fff"/>
<rect x="493.7" y="394" width="1.2" height="5" fill="#fff"/>
<rect x="490.7" y="406.5" width="1.2" height="1" fill="#fff"/>
<rect x="498.3" y="400" width="4.4" height="6" fill="#fff"/>
<rect x="499.8" y="394" width="1.2" height="5" fill="#fff"/>
<rect x="496.8" y="406.5" width="1.2" height="1" fill="#fff"/>
<rect x="504.4" y="400" width="4.4" height="6" fill="#fff"/>
<rect x="505.9" y="394" width="1.2" height="5" fill="#fff"/>
<rect x="502.9" y="406.5" width="1.2" height="1" fill="#fff"/>
<rect x="510.5" y="400" width="4.4" height="6" fill="#fff"/>
<rect x="512" y="394" width="1.2" height="5" fill="#fff"/>
<rect x="509" y="406.5" width="1.2" height="1" fill="#fff"/>
<rect x="516.6" y="400" width="4.4" height="6" fill="#fff"/>
<rect x="518.1" y="394" width="1.2" height="5" fill="#fff"/>
<rect x="515.1" y="406.5" width="1.2" height="1" fill="#fff"/>
<rect x="522.7" y="400" width="4.4" height="6" fill="#fff"/>
<rect x="524.2" y="394" width="1.2" height="5" fill="#fff"/>
<rect x="521.2" y="406.5" width="1.2" height="1" fill="#fff"/>
<rect x="528.8" y="400" width="4.4" height="6" fill="#fff"/>
<rect x="530.3" y="394" width="1.2" height="5" fill="#fff"/>
<rect x="527.3" y="406.5" width="1.2" height="1" fill="#fff"/>
<rect x="534.9" y="400" width="4.4" height="6" fill="#fff"/>
<rect x="536.4" y="394" width="1.2" height="5" fill="#fff"/>
<rect x="533.4" y="406.5" width="1.2" height="1" fill="#fff"/>
<rect x="541" y="400" width="4.4" height="6" fill="#fff"/>
<rect x="542.5" y="394" width="1.2" height="5" fill="#fff"/>
<rect x="539.5" y="406.5" width="1.2" height="1" fill="#fff"/>
<rect x="547.1" y="400" width="4.4" height="6" fill="#fff"/>
<rect x="548.6" y="394" width="1.2" height="5" fill="#fff"/>
<rect x="545.6" y="406.5" width="1.2" height="1" fill="#fff"/>
<rect x="553.2" y="400" width="4.4" height="6" fill="#fff"/>
<rect x="554.7" y="394" width="1.2" height="5" fill="#fff"/>
<rect x="551.7" y="406.5" width="1.2" height="1" fill="#fff"/>
<rect x="559.3" y="400" width="4.4" height="6" fill="#fff"/>
<rect x="560.8" y="394" width="1.2" height="5" fill="#fff"/>
<rect x="557.8" y="406.5" width="1.2" height="1" fill="#fff"/>
<rect x="565.4" y="400" width="4.4" height="6" fill="#fff"/>
<rect x="566.9" y="394" width="1.2" height="5" fill="#fff"/>
<rect x="563.9" y="406.5" width="1.2" height="1" fill="#fff"/>
<rect x="571.5" y="400" width="4.4" height="6" fill="#fff"/>
<rect x="573" y="394" width="1.2" height="5" fill="#fff"/>
<rect x="570" y="406.5" width="1.2" height="1" fill="#fff"/>
<rect x="577.6" y="400" width="4.4" height="6" fill="#fff"/>
<rect x="579.1" y="394" width="1.2" height="5" fill="#fff"/>
<rect x="576.1" y="406.5" width="1.2" height="1" fill="#fff"/>
<rect x="583.7" y="400" width="4.4" height="6" fill="#fff"/>
<rect x="585.2" y="394" width="1.2" height="5" fill="#fff"/>
<rect x="582.2" y="406.5" width="1.2" height="1" fill="#fff"/>
<rect x="589.8" y="400" width="4.4" height="6" fill="#fff"/>
<rect x="591.3" y="394" width="1.2" height="5" fill="#fff"/>
<rect x="588.3" y="406.5" width="1.2" height="1" fill="#fff"/>
<rect x="595.9" y="400" width="4.4" height="6" fill="#fff"/>
<rect x="597.4" y="394" width="1.2" height="5" fill="#fff"/>
<rect x="594.4" y="406.5" width="1.2" height="1" fill="#fff"/>
<rect x="602" y="400" width="4.4" height="6" fill="#fff"/>
<rect x="603.5" y="394" width="1.2" height="5" fill="#fff"/>
<rect x="600.5" y="406.5" width="1.2" height="1" fill="#fff"/>
<rect x="608.1" y="400" width="4.4" height="6" fill="#fff"/>
<rect x="609.6" y="394" width="1.2" height="5" fill="#fff"/>
<rect x="606.6" y="406.5" width="1.2" height="1" fill="#fff"/>
<rect x="614.2" y="400" width="4.4" height="6" fill="#fff"/>
<rect x="615.7" y="394" width="1.2" height="5" fill="#fff"/>
<rect x="612.7" y="406.5" width="1.2" height="1" fill="#fff"/>
<rect x="620.3" y="400" width="4.4" height="6" fill="#fff"/>
<rect x="621.8" y="394" width="1.2" height="5" fill="#fff"/>
<rect x="618.8" y="406.5" width="1.2" height="1" fill="#fff"/>
<rect x="626.4" y="400" width="4.4" height="6" fill="#fff"/>
<rect x="627.9" y="394" width="1.2" height="5" fill="#fff"/>
<rect x="624.9" y="406.5" width="1.2" height="1" fill="#fff"/>
<rect x="632.5" y="400" width="4.4" height="6" fill="#fff"/>
<rect x="634" y="394" width="1.2" height="5" fill="#fff"/>
<rect x="631" y="406.5" width="1.2" height="1" fill="#fff"/>
<rect x="638.6" y="400" width="4.4" height="6" fill="#fff"/>
<rect x="640.1" y="394" width="1.2" height="5" fill="#fff"/>
<rect x="637.1" y="406.5" width="1.2" height="1" fill="#fff"/>
<rect x="644.7" y="400" width="4.4" height="6" fill="#fff"/>
<rect x="646.2" y="394" width="1.2" height="5" fill="#fff"/>
<rect x="643.2" y="406.5" width="1.2" height="1" fill="#fff"/>
<polyline points="666.5,393.5 659.5,393.5 659.5,396.5 656.5,396.5 656.5,406.5 666.5,406.5" fill="none" stroke="#000" stroke-width="1"/>
<polyline points="659.5,396.5 659.5,399.5 663.5,399.5 663.5,396.5" fill="none" stroke="#000" stroke-width="1"/>
<rect x="663" y="395" width="3" height="2" fill="#000"/>
<rect x="665" y="396" width="2" height="11" fill="#000"/>
<rect x="668" y="392" width="1.5" height="17" fill="#000"/>
<rect x="670" y="391" width="8" height="8" fill="#000"/>
<rect x="671" y="392" width="6" height="6" fill="#fff"/>
<rect x="670" y="398" width="8" height="9" fill="#000"/>
<rect x="671" y="399" width="6" height="7" fill="#fff"/>
<rect x="670" y="406" width="8" height="4" fill="#000"/>
<rect x="671" y="407" width="6" height="2" fill="#fff"/>
<rect x="452" y="411" width="226" height="1" fill="#000"/>
<rect x="452" y="429" width="226" height="1" fill="#000"/>
<rect x="452" y="411" width="8" height="8" fill="#000"/>
<rect x="453" y="412" width="6" height="6" fill="#fff"/>
<rect x="451" y="418" width="9" height="9" fill="#000"/>
<rect x="452" y="419" width="7" height="7" fill="#fff"/>
<rect x="452" y="426" width="8" height="4" fill="#000"/>
<rect x="453" y="427" width="6" height="2" fill="#fff"/>
<rect x="459" y="411" width="4" height="19" fill="#000"/>
<polyline points="463,413.5 469.5,413.5 469.5,416.5 472.5,416.5 472.5,426.5 463,426.5" fill="none" stroke="#000" stroke-width="1"/>
<polyline points="463,416.5 465.5,416.5 465.5,419.5 469.5,419.5 469.5,416.5" fill="none" stroke="#000" stroke-width="1"/>
<rect x="477" y="413" width="174.5" height="14.5" fill="#000"/>
<rect x="480" y="420" width="4.4" height="6" fill="#fff"/>
<rect x="481.5" y="414" width="1.2" height="5" fill="#fff"/>
<rect x="478.5" y="426.5" width="1.2" height="1" fill="#fff"/>
<rect x="486.1" y="420" width="4.4" height="6" fill="#fff"/>
<rect x="487.6" y="414" width="1.2" height="5" fill="#fff"/>
<rect x="484.6" y="426.5" width="1.2" height="1" fill="#fff"/>
<rect x="492.2" y="420" width="4.4" height="6" fill="#fff"/>
<rect x="493.7" y="414" width="1.2" height="5" fill="#fff"/>
<rect x="490.7" y="426.5" width="1.2" height="1" fill="#fff"/>
<rect x="498.3" y="420" width="4.4" height="6" fill="#fff"/>
<rect x="499.8" y="414" width="1.2" height="5" fill="#fff"/>
<rect x="496.8" y="426.5" width="1.2" height="1" fill="#fff"/>
<rect x="504.4" y="420" width="4.4" height="6" fill="#fff"/>
<rect x="505.9" y="414" width="1.2" height="5" fill="#fff"/>
<rect x="502.9" y="426.5" width="1.2" height="1" fill="#fff"/>
<rect x="510.5" y="420" width="4.4" height="6" fill="#fff"/>
<rect x="512" y="414" width="1.2" height="5" fill="#fff"/>
<rect x="509" y="426.5" width="1.2" height="1" fill="#fff"/>
<rect x="516.6" y="420" width="4.4" height="6" fill="#fff"/>
<rect x="518.1" y="414" width="1.2" height="5" fill="#fff"/>
<rect x="515.1" y="426.5" width="1.2" height="1" fill="#fff"/>
<rect x="522.7" y="420" width="4.4" height="6" fill="#fff"/>
<rect x="524.2" y="414" width="1.2" height="5" fill="#fff"/>
<rect x="521.2" y="426.5" width="1.2" height="1" fill="#fff"/>
<rect x="528.8" y="420" width="4.4" height="6" fill="#fff"/>
<rect x="530.3" y="414" width="1.2" height="5" fill="#fff"/>
<rect x="527.3" y="426.5" width="1.2" height="1" fill="#fff"/>
<rect x="534.9" y="420" width="4.4" height="6" fill="#fff"/>
<rect x="536.4" y="414" width="1.2" height="5" fill="#fff"/>
<rect x="533.4" y="426.5" width="1.2" height="1" fill="#fff"/>
<rect x="541" y="420" width="4.4" height="6" fill="#fff"/>
<rect x="542.5" y="414" width="1.2" height="5" fill="#fff"/>
<rect x="539.5" y="426.5" width="1.2" height="1" fill="#fff"/>
<rect x="547.1" y="420" width="4.4" height="6" fill="#fff"/>
<rect x="548.6" y="414" width="1.2" height="5" fill="#fff"/>
<rect x="545.6" y="426.5" width="1.2" height="1" fill="#fff"/>
<rect x="553.2" y="420" width="4.4" height="6" fill="#fff"/>
<rect x="554.7" y="414" width="1.2" height="5" fill="#fff"/>
<rect x="551.7" y="426.5" width="1.2" height="1" fill="#fff"/>
<rect x="559.3" y="420" width="4.4" height="6" fill="#fff"/>
<rect x="560.8" y="414" width="1.2" height="5" fill="#fff"/>
<rect x="557.8" y="426.5" width="1.2" height="1" fill="#fff"/>
<rect x="565.4" y="420" width="4.4" height="6" fill="#fff"/>
<rect x="566.9" y="414" width="1.2" height="5" fill="#fff"/>
<rect x="563.9" y="426.5" width="1.2" height="1" fill="#fff"/>
<rect x="571.5" y="420" width="4.4" height="6" fill="#fff"/>
<rect x="573" y="414" width="1.2" height="5" fill="#fff"/>
<rect x="570" y="426.5" width="1.2" height="1" fill="#fff"/>
<rect x="577.6" y="420" width="4.4" height="6" fill="#fff"/>
<rect x="579.1" y="414" width="1.2" height="5" fill="#fff"/>
<rect x="576.1" y="426.5" width="1.2" height="1" fill="#fff"/>
<rect x="583.7" y="420" width="4.4" height="6" fill="#fff"/>
<rect x="585.2" y="414" width="1.2" height="5" fill="#fff"/>
<rect x="582.2" y="426.5" width="1.2" height="1" fill="#fff"/>
<rect x="589.8" y="420" width="4.4" height="6" fill="#fff"/>
<rect x="591.3" y="414" width="1.2" height="5" fill="#fff"/>
<rect x="588.3" y="426.5" width="1.2" height="1" fill="#fff"/>
<rect x="595.9" y="420" width="4.4" height="6" fill="#fff"/>
<rect x="597.4" y="414" width="1.2" height="5" fill="#fff"/>
<rect x="594.4" y="426.5" width="1.2" height="1" fill="#fff"/>
<rect x="602" y="420" width="4.4" height="6" fill="#fff"/>
<rect x="603.5" y="414" width="1.2" height="5" fill="#fff"/>
<rect x="600.5" y="426.5" width="1.2" height="1" fill="#fff"/>
<rect x="608.1" y="420" width="4.4" height="6" fill="#fff"/>
<rect x="609.6" y="414" width="1.2" height="5" fill="#fff"/>
<rect x="606.6" y="426.5" width="1.2" height="1" fill="#fff"/>
<rect x="614.2" y="420" width="4.4" height="6" fill="#fff"/>
<rect x="615.7" y="414" width="1.2" height="5" fill="#fff"/>
<rect x="612.7" y="426.5" width="1.2" height="1" fill="#fff"/>
<rect x="620.3" y="420" width="4.4" height="6" fill="#fff"/>
<rect x="621.8" y="414" width="1.2" height="5" fill="#fff"/>
<rect x="618.8" y="426.5" width="1.2" height="1" fill="#fff"/>
<rect x="626.4" y="420" width="4.4" height="6" fill="#fff"/>
<rect x="627.9" y="414" width="1.2" height="5" fill="#fff"/>
<rect x="624.9" y="426.5" width="1.2" height="1" fill="#fff"/>
<rect x="632.5" y="420" width="4.4" height="6" fill="#fff"/>
<rect x="634" y="414" width="1.2" height="5" fill="#fff"/>
<rect x="631" y="426.5" width="1.2" height="1" fill="#fff"/>
<rect x="638.6" y="420" width="4.4" height="6" fill="#fff"/>
<rect x="640.1" y="414" width="1.2" height="5" fill="#fff"/>
<rect x="637.1" y="426.5" width="1.2" height="1" fill="#fff"/>
<rect x="644.7" y="420" width="4.4" height="6" fill="#fff"/>
<rect x="646.2" y="414" width="1.2" height="5" fill="#fff"/>
<rect x="643.2" y="426.5" width="1.2" height="1" fill="#fff"/>
<polyline points="666.5,413.5 659.5,413.5 659.5,416.5 656.5,416.5 656.5,426.5 666.5,426.5" fill="none" stroke="#000" stroke-width="1"/>
<polyline points="659.5,416.5 659.5,419.5 663.5,419.5 663.5,416.5" fill="none" stroke="#000" stroke-width="1"/>
<rect x="663" y="415" width="3" height="2" fill="#000"/>
<rect x="665" y="416" width="2" height="11" fill="#000"/>
<rect x="668" y="412" width="1.5" height="17" fill="#000"/>
<rect x="670" y="411" width="8" height="8" fill="#000"/>
<rect x="671" y="412" width="6" height="6" fill="#fff"/>
<rect x="670" y="418" width="8" height="9" fill="#000"/>
<rect x="671" y="419" width="6" height="7" fill="#fff"/>
<rect x="670" y="426" width="8" height="4" fill="#000"/>
<rect x="671" y="427" width="6" height="2" fill="#fff"/>
<rect x="452" y="432" width="226" height="1" fill="#000"/>
<rect x="452" y="450" width="226" height="1" fill="#000"/>
<rect x="452" y="432" width="8" height="8" fill="#000"/>
<rect x="453" y="433" width="6" height="6" fill="#fff"/>
<rect x="451" y="439" width="9" height="9" fill="#000"/>
<rect x="452" y="440" width="7" height="7" fill="#fff"/>
<rect x="452" y="447" width="8" height="4" fill="#000"/>
<rect x="453" y="448" width="6" height="2" fill="#fff"/>
<rect x="459" y="432" width="4" height="19" fill="#000"/>
<polyline points="463,434.5 469.5,434.5 469.5,437.5 472.5,437.5 472.5,447.5 463,447.5" fill="none" stroke="#000" stroke-width="1"/>
<polyline points="463,437.5 465.5,437.5 465.5,440.5 469.5,440.5 469.5,437.5" fill="none" stroke="#000" stroke-width="1"/>
<rect x="477" y="434" width="174.5" height="14.5" fill="#000"/>
<rect x="480" y="441" width="4.4" height="6" fill="#fff"/>
<rect x="481.5" y="435" width="1.2" height="5" fill="#fff"/>
<rect x="478.5" y="447.5" width="1.2" height="1" fill="#fff"/>
<rect x="486.1" y="441" width="4.4" height="6" fill="#fff"/>
<rect x="487.6" y="435" width="1.2" height="5" fill="#fff"/>
<rect x="484.6" y="447.5" width="1.2" height="1" fill="#fff"/>
<rect x="492.2" y="441" width="4.4" height="6" fill="#fff"/>
<rect x="493.7" y="435" width="1.2" height="5" fill="#fff"/>
<rect x="490.7" y="447.5" width="1.2" height="1" fill="#fff"/>
<rect x="498.3" y="441" width="4.4" height="6" fill="#fff"/>
<rect x="499.8" y="435" width="1.2" height="5" fill="#fff"/>
<rect x="496.8" y="447.5" width="1.2" height="1" fill="#fff"/>
<rect x="504.4" y="441" width="4.4" height="6" fill="#fff"/>
<rect x="505.9" y="435" width="1.2" height="5" fill="#fff"/>
<rect x="502.9" y="447.5" width="1.2" height="1" fill="#fff"/>
<rect x="510.5" y="441" width="4.4" height="6" fill="#fff"/>
<rect x="512" y="435" width="1.2" height="5" fill="#fff"/>
<rect x="509" y="447.5" width="1.2" height="1" fill="#fff"/>
<rect x="516.6" y="441" width="4.4" height="6" fill="#fff"/>
<rect x="518.1" y="435" width="1.2" height="5" fill="#fff"/>
<rect x="515.1" y="447.5" width="1.2" height="1" fill="#fff"/>
<rect x="522.7" y="441" width="4.4" height="6" fill="#fff"/>
<rect x="524.2" y="435" width="1.2" height="5" fill="#fff"/>
<rect x="521.2" y="447.5" width="1.2" height="1" fill="#fff"/>
<rect x="528.8" y="441" width="4.4" height="6" fill="#fff"/>
<rect x="530.3" y="435" width="1.2" height="5" fill="#fff"/>
<rect x="527.3" y="447.5" width="1.2" height="1" fill="#fff"/>
<rect x="534.9" y="441" width="4.4" height="6" fill="#fff"/>
<rect x="536.4" y="435" width="1.2" height="5" fill="#fff"/>
<rect x="533.4" y="447.5" width="1.2" height="1" fill="#fff"/>
<rect x="541" y="441" width="4.4" height="6" fill="#fff"/>
<rect x="542.5" y="435" width="1.2" height="5" fill="#fff"/>
<rect x="539.5" y="447.5" width="1.2" height="1" fill="#fff"/>
<rect x="547.1" y="441" width="4.4" height="6" fill="#fff"/>
<rect x="548.6" y="435" width="1.2" height="5" fill="#fff"/>
<rect x="545.6" y="447.5" width="1.2" height="1" fill="#fff"/>
<rect x="553.2" y="441" width="4.4" height="6" fill="#fff"/>
<rect x="554.7" y="435" width="1.2" height="5" fill="#fff"/>
<rect x="551.7" y="447.5" width="1.2" height="1" fill="#fff"/>
<rect x="559.3" y="441" width="4.4" height="6" fill="#fff"/>
<rect x="560.8" y="435" width="1.2" height="5" fill="#fff"/>
<rect x="557.8" y="447.5" width="1.2" height="1" fill="#fff"/>
<rect x="565.4" y="441" width="4.4" height="6" fill="#fff"/>
<rect x="566.9" y="435" width="1.2" height="5" fill="#fff"/>
<rect x="563.9" y="447.5" width="1.2" height="1" fill="#fff"/>
<rect x="571.5" y="441" width="4.4" height="6" fill="#fff"/>
<rect x="573" y="435" width="1.2" height="5" fill="#fff"/>
<rect x="570" y="447.5" width="1.2" height="1" fill="#fff"/>
<rect x="577.6" y="441" width="4.4" height="6" fill="#fff"/>
<rect x="579.1" y="435" width="1.2" height="5" fill="#fff"/>
<rect x="576.1" y="447.5" width="1.2" height="1" fill="#fff"/>
<rect x="583.7" y="441" width="4.4" height="6" fill="#fff"/>
<rect x="585.2" y="435" width="1.2" height="5" fill="#fff"/>
<rect x="582.2" y="447.5" width="1.2" height="1" fill="#fff"/>
<rect x="589.8" y="441" width="4.4" height="6" fill="#fff"/>
<rect x="591.3" y="435" width="1.2" height="5" fill="#fff"/>
<rect x="588.3" y="447.5" width="1.2" height="1" fill="#fff"/>
<rect x="595.9" y="441" width="4.4" height="6" fill="#fff"/>
<rect x="597.4" y="435" width="1.2" height="5" fill="#fff"/>
<rect x="594.4" y="447.5" width="1.2" height="1" fill="#fff"/>
<rect x="602" y="441" width="4.4" height="6" fill="#fff"/>
<rect x="603.5" y="435" width="1.2" height="5" fill="#fff"/>
<rect x="600.5" y="447.5" width="1.2" height="1" fill="#fff"/>
<rect x="608.1" y="441" width="4.4" height="6" fill="#fff"/>
<rect x="609.6" y="435" width="1.2" height="5" fill="#fff"/>
<rect x="606.6" y="447.5" width="1.2" height="1" fill="#fff"/>
<rect x="614.2" y="441" width="4.4" height="6" fill="#fff"/>
<rect x="615.7" y="435" width="1.2" height="5" fill="#fff"/>
<rect x="612.7" y="447.5" width="1.2" height="1" fill="#fff"/>
<rect x="620.3" y="441" width="4.4" height="6" fill="#fff"/>
<rect x="621.8" y="435" width="1.2" height="5" fill="#fff"/>
<rect x="618.8" y="447.5" width="1.2" height="1" fill="#fff"/>
<rect x="626.4" y="441" width="4.4" height="6" fill="#fff"/>
<rect x="627.9" y="435" width="1.2" height="5" fill="#fff"/>
<rect x="624.9" y="447.5" width="1.2" height="1" fill="#fff"/>
<rect x="632.5" y="441" width="4.4" height="6" fill="#fff"/>
<rect x="634" y="435" width="1.2" height="5" fill="#fff"/>
<rect x="631" y="447.5" width="1.2" height="1" fill="#fff"/>
<rect x="638.6" y="441" width="4.4" height="6" fill="#fff"/>
<rect x="640.1" y="435" width="1.2" height="5" fill="#fff"/>
<rect x="637.1" y="447.5" width="1.2" height="1" fill="#fff"/>
<rect x="644.7" y="441" width="4.4" height="6" fill="#fff"/>
<rect x="646.2" y="435" width="1.2" height="5" fill="#fff"/>
<rect x="643.2" y="447.5" width="1.2" height="1" fill="#fff"/>
<polyline points="666.5,434.5 659.5,434.5 659.5,437.5 656.5,437.5 656.5,447.5 666.5,447.5" fill="none" stroke="#000" stroke-width="1"/>
<polyline points="659.5,437.5 659.5,440.5 663.5,440.5 663.5,437.5" fill="none" stroke="#000" stroke-width="1"/>
<rect x="663" y="436" width="3" height="2" fill="#000"/>
<rect x="665" y="437" width="2" height="11" fill="#000"/>
<rect x="668" y="433" width="1.5" height="17" fill="#000"/>
<rect x="670" y="432" width="8" height="8" fill="#000"/>
<rect x="671" y="433" width="6" height="6" fill="#fff"/>
<rect x="670" y="439" width="8" height="9" fill="#000"/>
<rect x="671" y="440" width="6" height="7" fill="#fff"/>
<rect x="670" y="447" width="8" height="4" fill="#000"/>
<rect x="671" y="448" width="6" height="2" fill="#fff"/>
<rect x="452" y="452" width="226" height="1" fill="#000"/>
<rect x="452" y="470" width="226" height="1" fill="#000"/>
<rect x="452" y="452" width="8" height="8" fill="#000"/>
<rect x="453" y="453" width="6" height="6" fill="#fff"/>
<rect x="451" y="459" width="9" height="9" fill="#000"/>
<rect x="452" y="460" width="7" height="7" fill="#fff"/>
<rect x="452" y="467" width="8" height="4" fill="#000"/>
<rect x="453" y="468" width="6" height="2" fill="#fff"/>
<rect x="459" y="452" width="4" height="19" fill="#000"/>
<polyline points="463,454.5 469.5,454.5 469.5,457.5 472.5,457.5 472.5,467.5 463,467.5" fill="none" stroke="#000" stroke-width="1"/>
<polyline points="463,457.5 465.5,457.5 465.5,460.5 469.5,460.5 469.5,457.5" fill="none" stroke="#000" stroke-width="1"/>
<rect x="477" y="454" width="174.5" height="14.5" fill="#000"/>
<rect x="480" y="461" width="4.4" height="6" fill="#fff"/>
<rect x="481.5" y="455" width="1.2" height="5" fill="#fff"/>
<rect x="478.5" y="467.5" width="1.2" height="1" fill="#fff"/>
<rect x="486.1" y="461" width="4.4" height="6" fill="#fff"/>
<rect x="487.6" y="455" width="1.2" height="5" fill="#fff"/>
<rect x="484.6" y="467.5" width="1.2" height="1" fill="#fff"/>
<rect x="492.2" y="461" width="4.4" height="6" fill="#fff"/>
<rect x="493.7" y="455" width="1.2" height="5" fill="#fff"/>
<rect x="490.7" y="467.5" width="1.2" height="1" fill="#fff"/>
<rect x="498.3" y="461" width="4.4" height="6" fill="#fff"/>
<rect x="499.8" y="455" width="1.2" height="5" fill="#fff"/>
<rect x="496.8" y="467.5" width="1.2" height="1" fill="#fff"/>
<rect x="504.4" y="461" width="4.4" height="6" fill="#fff"/>
<rect x="505.9" y="455" width="1.2" height="5" fill="#fff"/>
<rect x="502.9" y="467.5" width="1.2" height="1" fill="#fff"/>
<rect x="510.5" y="461" width="4.4" height="6" fill="#fff"/>
<rect x="512" y="455" width="1.2" height="5" fill="#fff"/>
<rect x="509" y="467.5" width="1.2" height="1" fill="#fff"/>
<rect x="516.6" y="461" width="4.4" height="6" fill="#fff"/>
<rect x="518.1" y="455" width="1.2" height="5" fill="#fff"/>
<rect x="515.1" y="467.5" width="1.2" height="1" fill="#fff"/>
<rect x="522.7" y="461" width="4.4" height="6" fill="#fff"/>
<rect x="524.2" y="455" width="1.2" height="5" fill="#fff"/>
<rect x="521.2" y="467.5" width="1.2" height="1" fill="#fff"/>
<rect x="528.8" y="461" width="4.4" height="6" fill="#fff"/>
<rect x="530.3" y="455" width="1.2" height="5" fill="#fff"/>
<rect x="527.3" y="467.5" width="1.2" height="1" fill="#fff"/>
<rect x="534.9" y="461" width="4.4" height="6" fill="#fff"/>
<rect x="536.4" y="455" width="1.2" height="5" fill="#fff"/>
<rect x="533.4" y="467.5" width="1.2" height="1" fill="#fff"/>
<rect x="541" y="461" width="4.4" height="6" fill="#fff"/>
<rect x="542.5" y="455" width="1.2" height="5" fill="#fff"/>
<rect x="539.5" y="467.5" width="1.2" height="1" fill="#fff"/>
<rect x="547.1" y="461" width="4.4" height="6" fill="#fff"/>
<rect x="548.6" y="455" width="1.2" height="5" fill="#fff"/>
<rect x="545.6" y="467.5" width="1.2" height="1" fill="#fff"/>
<rect x="553.2" y="461" width="4.4" height="6" fill="#fff"/>
<rect x="554.7" y="455" width="1.2" height="5" fill="#fff"/>
<rect x="551.7" y="467.5" width="1.2" height="1" fill="#fff"/>
<rect x="559.3" y="461" width="4.4" height="6" fill="#fff"/>
<rect x="560.8" y="455" width="1.2" height="5" fill="#fff"/>
<rect x="557.8" y="467.5" width="1.2" height="1" fill="#fff"/>
<rect x="565.4" y="461" width="4.4" height="6" fill="#fff"/>
<rect x="566.9" y="455" width="1.2" height="5" fill="#fff"/>
<rect x="563.9" y="467.5" width="1.2" height="1" fill="#fff"/>
<rect x="571.5" y="461" width="4.4" height="6" fill="#fff"/>
<rect x="573" y="455" width="1.2" height="5" fill="#fff"/>
<rect x="570" y="467.5" width="1.2" height="1" fill="#fff"/>
<rect x="577.6" y="461" width="4.4" height="6" fill="#fff"/>
<rect x="579.1" y="455" width="1.2" height="5" fill="#fff"/>
<rect x="576.1" y="467.5" width="1.2" height="1" fill="#fff"/>
<rect x="583.7" y="461" width="4.4" height="6" fill="#fff"/>
<rect x="585.2" y="455" width="1.2" height="5" fill="#fff"/>
<rect x="582.2" y="467.5" width="1.2" height="1" fill="#fff"/>
<rect x="589.8" y="461" width="4.4" height="6" fill="#fff"/>
<rect x="591.3" y="455" width="1.2" height="5" fill="#fff"/>
<rect x="588.3" y="467.5" width="1.2" height="1" fill="#fff"/>
<rect x="595.9" y="461" width="4.4" height="6" fill="#fff"/>
<rect x="597.4" y="455" width="1.2" height="5" fill="#fff"/>
<rect x="594.4" y="467.5" width="1.2" height="1" fill="#fff"/>
<rect x="602" y="461" width="4.4" height="6" fill="#fff"/>
<rect x="603.5" y="455" width="1.2" height="5" fill="#fff"/>
<rect x="600.5" y="467.5" width="1.2" height="1" fill="#fff"/>
<rect x="608.1" y="461" width="4.4" height="6" fill="#fff"/>
<rect x="609.6" y="455" width="1.2" height="5" fill="#fff"/>
<rect x="606.6" y="467.5" width="1.2" height="1" fill="#fff"/>
<rect x="614.2" y="461" width="4.4" height="6" fill="#fff"/>
<rect x="615.7" y="455" width="1.2" height="5" fill="#fff"/>
<rect x="612.7" y="467.5" width="1.2" height="1" fill="#fff"/>
<rect x="620.3" y="461" width="4.4" height="6" fill="#fff"/>
<rect x="621.8" y="455" width="1.2" height="5" fill="#fff"/>
<rect x="618.8" y="467.5" width="1.2" height="1" fill="#fff"/>
<rect x="626.4" y="461" width="4.4" height="6" fill="#fff"/>
<rect x="627.9" y="455" width="1.2" height="5" fill="#fff"/>
<rect x="624.9" y="467.5" width="1.2" height="1" fill="#fff"/>
<rect x="632.5" y="461" width="4.4" height="6" fill="#fff"/>
<rect x="634" y="455" width="1.2" height="5" fill="#fff"/>
<rect x="631" y="467.5" width="1.2" height="1" fill="#fff"/>
<rect x="638.6" y="461" width="4.4" height="6" fill="#fff"/>
<rect x="640.1" y="455" width="1.2" height="5" fill="#fff"/>
<rect x="637.1" y="467.5" width="1.2" height="1" fill="#fff"/>
<rect x="644.7" y="461" width="4.4" height="6" fill="#fff"/>
<rect x="646.2" y="455" width="1.2" height="5" fill="#fff"/>
<rect x="643.2" y="467.5" width="1.2" height="1" fill="#fff"/>
<polyline points="666.5,454.5 659.5,454.5 659.5,457.5 656.5,457.5 656.5,467.5 666.5,467.5" fill="none" stroke="#000" stroke-width="1"/>
<polyline points="659.5,457.5 659.5,460.5 663.5,460.5 663.5,457.5" fill="none" stroke="#000" stroke-width="1"/>
<rect x="663" y="456" width="3" height="2" fill="#000"/>
<rect x="665" y="457" width="2" height="11" fill="#000"/>
<rect x="668" y="453" width="1.5" height="17" fill="#000"/>
<rect x="670" y="452" width="8" height="8" fill="#000"/>
<rect x="671" y="453" width="6" height="6" fill="#fff"/>
<rect x="670" y="459" width="8" height="9" fill="#000"/>
<rect x="671" y="460" width="6" height="7" fill="#fff"/>
<rect x="670" y="467" width="8" height="4" fill="#000"/>
<rect x="671" y="468" width="6" height="2" fill="#fff"/>
<rect x="452" y="472" width="226" height="1" fill="#000"/>
<rect x="452" y="490" width="226" height="1" fill="#000"/>
<rect x="452" y="472" width="8" height="8" fill="#000"/>
<rect x="453" y="473" width="6" height="6" fill="#fff"/>
<rect x="451" y="479" width="9" height="9" fill="#000"/>
<rect x="452" y="480" width="7" height="7" fill="#fff"/>
<rect x="452" y="487" width="8" height="4" fill="#000"/>
<rect x="453" y="488" width="6" height="2" fill="#fff"/>
<rect x="459" y="472" width="4" height="19" fill="#000"/>
<polyline points="463,474.5 469.5,474.5 469.5,477.5 472.5,477.5 472.5,487.5 463,487.5" fill="none" stroke="#000" stroke-width="1"/>
<polyline points="463,477.5 465.5,477.5 465.5,480.5 469.5,480.5 469.5,477.5" fill="none" stroke="#000" stroke-width="1"/>
<rect x="477" y="474" width="174.5" height="14.5" fill="#000"/>
<rect x="480" y="481" width="4.4" height="6" fill="#fff"/>
<rect x="481.5" y="475" width="1.2" height="5" fill="#fff"/>
<rect x="478.5" y="487.5" width="1.2" height="1" fill="#fff"/>
<rect x="486.1" y="481" width="4.4" height="6" fill="#fff"/>
<rect x="487.6" y="475" width="1.2" height="5" fill="#fff"/>
<rect x="484.6" y="487.5" width="1.2" height="1" fill="#fff"/>
<rect x="492.2" y="481" width="4.4" height="6" fill="#fff"/>
<rect x="493.7" y="475" width="1.2" height="5" fill="#fff"/>
<rect x="490.7" y="487.5" width="1.2" height="1" fill="#fff"/>
<rect x="498.3" y="481" width="4.4" height="6" fill="#fff"/>
<rect x="499.8" y="475" width="1.2" height="5" fill="#fff"/>
<rect x="496.8" y="487.5" width="1.2" height="1" fill="#fff"/>
<rect x="504.4" y="481" width="4.4" height="6" fill="#fff"/>
<rect x="505.9" y="475" width="1.2" height="5" fill="#fff"/>
<rect x="502.9" y="487.5" width="1.2" height="1" fill="#fff"/>
<rect x="510.5" y="481" width="4.4" height="6" fill="#fff"/>
<rect x="512" y="475" width="1.2" height="5" fill="#fff"/>
<rect x="509" y="487.5" width="1.2" height="1" fill="#fff"/>
<rect x="516.6" y="481" width="4.4" height="6" fill="#fff"/>
<rect x="518.1" y="475" width="1.2" height="5" fill="#fff"/>
<rect x="515.1" y="487.5" width="1.2" height="1" fill="#fff"/>
<rect x="522.7" y="481" width="4.4" height="6" fill="#fff"/>
<rect x="524.2" y="475" width="1.2" height="5" fill="#fff"/>
<rect x="521.2" y="487.5" width="1.2" height="1" fill="#fff"/>
<rect x="528.8" y="481" width="4.4" height="6" fill="#fff"/>
<rect x="530.3" y="475" width="1.2" height="5" fill="#fff"/>
<rect x="527.3" y="487.5" width="1.2" height="1" fill="#fff"/>
<rect x="534.9" y="481" width="4.4" height="6" fill="#fff"/>
<rect x="536.4" y="475" width="1.2" height="5" fill="#fff"/>
<rect x="533.4" y="487.5" width="1.2" height="1" fill="#fff"/>
<rect x="541" y="481" width="4.4" height="6" fill="#fff"/>
<rect x="542.5" y="475" width="1.2" height="5" fill="#fff"/>
<rect x="539.5" y="487.5" width="1.2" height="1" fill="#fff"/>
<rect x="547.1" y="481" width="4.4" height="6" fill="#fff"/>
<rect x="548.6" y="475" width="1.2" height="5" fill="#fff"/>
<rect x="545.6" y="487.5" width="1.2" height="1" fill="#fff"/>
<rect x="553.2" y="481" width="4.4" height="6" fill="#fff"/>
<rect x="554.7" y="475" width="1.2" height="5" fill="#fff"/>
<rect x="551.7" y="487.5" width="1.2" height="1" fill="#fff"/>
<rect x="559.3" y="481" width="4.4" height="6" fill="#fff"/>
<rect x="560.8" y="475" width="1.2" height="5" fill="#fff"/>
<rect x="557.8" y="487.5" width="1.2" height="1" fill="#fff"/>
<rect x="565.4" y="481" width="4.4" height="6" fill="#fff"/>
<rect x="566.9" y="475" width="1.2" height="5" fill="#fff"/>
<rect x="563.9" y="487.5" width="1.2" height="1" fill="#fff"/>
<rect x="571.5" y="481" width="4.4" height="6" fill="#fff"/>
<rect x="573" y="475" width="1.2" height="5" fill="#fff"/>
<rect x="570" y="487.5" width="1.2" height="1" fill="#fff"/>
<rect x="577.6" y="481" width="4.4" height="6" fill="#fff"/>
<rect x="579.1" y="475" width="1.2" height="5" fill="#fff"/>
<rect x="576.1" y="487.5" width="1.2" height="1" fill="#fff"/>
<rect x="583.7" y="481" width="4.4" height="6" fill="#fff"/>
<rect x="585.2" y="475" width="1.2" height="5" fill="#fff"/>
<rect x="582.2" y="487.5" width="1.2" height="1" fill="#fff"/>
<rect x="589.8" y="481" width="4.4" height="6" fill="#fff"/>
<rect x="591.3" y="475" width="1.2" height="5" fill="#fff"/>
<rect x="588.3" y="487.5" width="1.2" height="1" fill="#fff"/>
<rect x="595.9" y="481" width="4.4" height="6" fill="#fff"/>
<rect x="597.4" y="475" width="1.2" height="5" fill="#fff"/>
<rect x="594.4" y="487.5" width="1.2" height="1" fill="#fff"/>
<rect x="602" y="481" width="4.4" height="6" fill="#fff"/>
<rect x="603.5" y="475" width="1.2" height="5" fill="#fff"/>
<rect x="600.5" y="487.5" width="1.2" height="1" fill="#fff"/>
<rect x="608.1" y="481" width="4.4" height="6" fill="#fff"/>
<rect x="609.6" y="475" width="1.2" height="5" fill="#fff"/>
<rect x="606.6" y="487.5" width="1.2" height="1" fill="#fff"/>
<rect x="614.2" y="481" width="4.4" height="6" fill="#fff"/>
<rect x="615.7" y="475" width="1.2" height="5" fill="#fff"/>
<rect x="612.7" y="487.5" width="1.2" height="1" fill="#fff"/>
<rect x="620.3" y="481" width="4.4" height="6" fill="#fff"/>
<rect x="621.8" y="475" width="1.2" height="5" fill="#fff"/>
<rect x="618.8" y="487.5" width="1.2" height="1" fill="#fff"/>
<rect x="626.4" y="481" width="4.4" height="6" fill="#fff"/>
<rect x="627.9" y="475" width="1.2" height="5" fill="#fff"/>
<rect x="624.9" y="487.5" width="1.2" height="1" fill="#fff"/>
<rect x="632.5" y="481" width="4.4" height="6" fill="#fff"/>
<rect x="634" y="475" width="1.2" height="5" fill="#fff"/>
<rect x="631" y="487.5" width="1.2" height="1" fill="#fff"/>
<rect x="638.6" y="481" width="4.4" height="6" fill="#fff"/>
<rect x="640.1" y="475" width="1.2" height="5" fill="#fff"/>
<rect x="637.1" y="487.5" width="1.2" height="1" fill="#fff"/>
<rect x="644.7" y="481" width="4.4" height="6" fill="#fff"/>
<rect x="646.2" y="475" width="1.2" height="5" fill="#fff"/>
<rect x="643.2" y="487.5" width="1.2" height="1" fill="#fff"/>
<polyline points="666.5,474.5 659.5,474.5 659.5,477.5 656.5,477.5 656.5,487.5 666.5,487.5" fill="none" stroke="#000" stroke-width="1"/>
<polyline points="659.5,477.5 659.5,480.5 663.5,480.5 663.5,477.5" fill="none" stroke="#000" stroke-width="1"/>
<rect x="663" y="476" width="3" height="2" fill="#000"/>
<rect x="665" y="477" width="2" height="11" fill="#000"/>
<rect x="668" y="473" width="1.5" height="17" fill="#000"/>
<rect x="670" y="472" width="8" height="8" fill="#000"/>
<rect x="671" y="473" width="6" height="6" fill="#fff"/>
<rect x="670" y="479" width="8" height="9" fill="#000"/>
<rect x="671" y="480" width="6" height="7" fill="#fff"/>
<rect x="670" y="487" width="8" height="4" fill="#000"/>
<rect x="671" y="488" width="6" height="2" fill="#fff"/>
<rect x="452" y="492" width="226" height="1" fill="#000"/>
<rect x="452" y="510" width="226" height="1" fill="#000"/>
<rect x="452" y="492" width="8" height="8" fill="#000"/>
<rect x="453" y="493" width="6" height="6" fill="#fff"/>
<rect x="451" y="499" width="9" height="9" fill="#000"/>
<rect x="452" y="500" width="7" height="7" fill="#fff"/>
<rect x="452" y="507" width="8" height="4" fill="#000"/>
<rect x="453" y="508" width="6" height="2" fill="#fff"/>
<rect x="459" y="492" width="4" height="19" fill="#000"/>
<polyline points="463,494.5 469.5,494.5 469.5,497.5 472.5,497.5 472.5,507.5 463,507.5" fill="none" stroke="#000" stroke-width="1"/>
<polyline points="463,497.5 465.5,497.5 465.5,500.5 469.5,500.5 469.5,497.5" fill="none" stroke="#000" stroke-width="1"/>
<rect x="477" y="494" width="174.5" height="14.5" fill="#000"/>
<rect x="480" y="501" width="4.4" height="6" fill="#fff"/>
<rect x="481.5" y="495" width="1.2" height="5" fill="#fff"/>
<rect x="478.5" y="507.5" width="1.2" height="1" fill="#fff"/>
<rect x="486.1" y="501" width="4.4" height="6" fill="#fff"/>
<rect x="487.6" y="495" width="1.2" height="5" fill="#fff"/>
<rect x="484.6" y="507.5" width="1.2" height="1" fill="#fff"/>
<rect x="492.2" y="501" width="4.4" height="6" fill="#fff"/>
<rect x="493.7" y="495" width="1.2" height="5" fill="#fff"/>
<rect x="490.7" y="507.5" width="1.2" height="1" fill="#fff"/>
<rect x="498.3" y="501" width="4.4" height="6" fill="#fff"/>
<rect x="499.8" y="495" width="1.2" height="5" fill="#fff"/>
<rect x="496.8" y="507.5" width="1.2" height="1" fill="#fff"/>
<rect x="504.4" y="501" width="4.4" height="6" fill="#fff"/>
<rect x="505.9" y="495" width="1.2" height="5" fill="#fff"/>
<rect x="502.9" y="507.5" width="1.2" height="1" fill="#fff"/>
<rect x="510.5" y="501" width="4.4" height="6" fill="#fff"/>
<rect x="512" y="495" width="1.2" height="5" fill="#fff"/>
<rect x="509" y="507.5" width="1.2" height="1" fill="#fff"/>
<rect x="516.6" y="501" width="4.4" height="6" fill="#fff"/>
<rect x="518.1" y="495" width="1.2" height="5" fill="#fff"/>
<rect x="515.1" y="507.5" width="1.2" height="1" fill="#fff"/>
<rect x="522.7" y="501" width="4.4" height="6" fill="#fff"/>
<rect x="524.2" y="495" width="1.2" height="5" fill="#fff"/>
<rect x="521.2" y="507.5" width="1.2" height="1" fill="#fff"/>
<rect x="528.8" y="501" width="4.4" height="6" fill="#fff"/>
<rect x="530.3" y="495" width="1.2" height="5" fill="#fff"/>
<rect x="527.3" y="507.5" width="1.2" height="1" fill="#fff"/>
<rect x="534.9" y="501" width="4.4" height="6" fill="#fff"/>
<rect x="536.4" y="495" width="1.2" height="5" fill="#fff"/>
<rect x="533.4" y="507.5" width="1.2" height="1" fill="#fff"/>
<rect x="541" y="501" width="4.4" height="6" fill="#fff"/>
<rect x="542.5" y="495" width="1.2" height="5" fill="#fff"/>
<rect x="539.5" y="507.5" width="1.2" height="1" fill="#fff"/>
<rect x="547.1" y="501" width="4.4" height="6" fill="#fff"/>
<rect x="548.6" y="495" width="1.2" height="5" fill="#fff"/>
<rect x="545.6" y="507.5" width="1.2" height="1" fill="#fff"/>
<rect x="553.2" y="501" width="4.4" height="6" fill="#fff"/>
<rect x="554.7" y="495" width="1.2" height="5" fill="#fff"/>
<rect x="551.7" y="507.5" width="1.2" height="1" fill="#fff"/>
<rect x="559.3" y="501" width="4.4" height="6" fill="#fff"/>
<rect x="560.8" y="495" width="1.2" height="5" fill="#fff"/>
<rect x="557.8" y="507.5" width="1.2" height="1" fill="#fff"/>
<rect x="565.4" y="501" width="4.4" height="6" fill="#fff"/>
<rect x="566.9" y="495" width="1.2" height="5" fill="#fff"/>
<rect x="563.9" y="507.5" width="1.2" height="1" fill="#fff"/>
<rect x="571.5" y="501" width="4.4" height="6" fill="#fff"/>
<rect x="573" y="495" width="1.2" height="5" fill="#fff"/>
<rect x="570" y="507.5" width="1.2" height="1" fill="#fff"/>
<rect x="577.6" y="501" width="4.4" height="6" fill="#fff"/>
<rect x="579.1" y="495" width="1.2" height="5" fill="#fff"/>
<rect x="576.1" y="507.5" width="1.2" height="1" fill="#fff"/>
<rect x="583.7" y="501" width="4.4" height="6" fill="#fff"/>
<rect x="585.2" y="495" width="1.2" height="5" fill="#fff"/>
<rect x="582.2" y="507.5" width="1.2" height="1" fill="#fff"/>
<rect x="589.8" y="501" width="4.4" height="6" fill="#fff"/>
<rect x="591.3" y="495" width="1.2" height="5" fill="#fff"/>
<rect x="588.3" y="507.5" width="1.2" height="1" fill="#fff"/>
<rect x="595.9" y="501" width="4.4" height="6" fill="#fff"/>
<rect x="597.4" y="495" width="1.2" height="5" fill="#fff"/>
<rect x="594.4" y="507.5" width="1.2" height="1" fill="#fff"/>
<rect x="602" y="501" width="4.4" height="6" fill="#fff"/>
<rect x="603.5" y="495" width="1.2" height="5" fill="#fff"/>
<rect x="600.5" y="507.5" width="1.2" height="1" fill="#fff"/>
<rect x="608.1" y="501" width="4.4" height="6" fill="#fff"/>
<rect x="609.6" y="495" width="1.2" height="5" fill="#fff"/>
<rect x="606.6" y="507.5" width="1.2" height="1" fill="#fff"/>
<rect x="614.2" y="501" width="4.4" height="6" fill="#fff"/>
<rect x="615.7" y="495" width="1.2" height="5" fill="#fff"/>
<rect x="612.7" y="507.5" width="1.2" height="1" fill="#fff"/>
<rect x="620.3" y="501" width="4.4" height="6" fill="#fff"/>
<rect x="621.8" y="495" width="1.2" height="5" fill="#fff"/>
<rect x="618.8" y="507.5" width="1.2" height="1" fill="#fff"/>
<rect x="626.4" y="501" width="4.4" height="6" fill="#fff"/>
<rect x="627.9" y="495" width="1.2" height="5" fill="#fff"/>
<rect x="624.9" y="507.5" width="1.2" height="1" fill="#fff"/>
<rect x="632.5" y="501" width="4.4" height="6" fill="#fff"/>
<rect x="634" y="495" width="1.2" height="5" fill="#fff"/>
<rect x="631" y="507.5" width="1.2" height="1" fill="#fff"/>
<rect x="638.6" y="501" width="4.4" height="6" fill="#fff"/>
<rect x="640.1" y="495" width="1.2" height="5" fill="#fff"/>
<rect x="637.1" y="507.5" width="1.2" height="1" fill="#fff"/>
<rect x="644.7" y="501" width="4.4" height="6" fill="#fff"/>
<rect x="646.2" y="495" width="1.2" height="5" fill="#fff"/>
<rect x="643.2" y="507.5" width="1.2" height="1" fill="#fff"/>
<polyline points="666.5,494.5 659.5,494.5 659.5,497.5 656.5,497.5 656.5,507.5 666.5,507.5" fill="none" stroke="#000" stroke-width="1"/>
<polyline points="659.5,497.5 659.5,500.5 663.5,500.5 663.5,497.5" fill="none" stroke="#000" stroke-width="1"/>
<rect x="663" y="496" width="3" height="2" fill="#000"/>
<rect x="665" y="497" width="2" height="11" fill="#000"/>
<rect x="668" y="493" width="1.5" height="17" fill="#000"/>
<rect x="670" y="492" width="8" height="8" fill="#000"/>
<rect x="671" y="493" width="6" height="6" fill="#fff"/>
<rect x="670" y="499" width="8" height="9" fill="#000"/>
<rect x="671" y="500" width="6" height="7" fill="#fff"/>
<rect x="670" y="507" width="8" height="4" fill="#000"/>
<rect x="671" y="508" width="6" height="2" fill="#fff"/>
<rect x="535" y="382" width="58" height="15" rx="3" fill="#fff" stroke="#000" stroke-width="2" shape-rendering="geometricPrecision"/>
<text x="564" y="394.4" font-size="13.5" text-anchor="middle" letter-spacing="0" textLength="47" lengthAdjust="spacingAndGlyphs">BANK 1</text>
<rect x="535" y="463" width="58" height="15.5" rx="3" fill="#fff" stroke="#000" stroke-width="2" shape-rendering="geometricPrecision"/>
<text x="564" y="475.65" font-size="13.5" text-anchor="middle" letter-spacing="0" textLength="47" lengthAdjust="spacingAndGlyphs">BANK 0</text>
<rect x="688" y="376" width="24" height="112" fill="#000"/>
<rect x="689" y="377" width="22" height="110" fill="#fff"/>
<rect x="702" y="376" width="1" height="112" fill="#000"/>
<rect x="704.5" y="376" width="1" height="112" fill="#000"/>
<rect x="691" y="382" width="8" height="7" fill="#000"/>
<rect x="692" y="383" width="6" height="5" fill="#fff"/>
<rect x="699" y="378" width="3" height="6" fill="#000"/>
<rect x="700" y="379" width="1" height="1" fill="#fff"/>
<rect x="700" y="381" width="1" height="1" fill="#fff"/>
<rect x="706" y="378" width="3" height="6" fill="#000"/>
<rect x="705" y="379" width="5" height="3" fill="#000"/>
<rect x="691" y="392" width="8" height="7" fill="#000"/>
<rect x="692" y="393" width="6" height="5" fill="#fff"/>
<rect x="699" y="387" width="3" height="6" fill="#000"/>
<rect x="700" y="388" width="1" height="1" fill="#fff"/>
<rect x="700" y="390" width="1" height="1" fill="#fff"/>
<rect x="706" y="387" width="3" height="6" fill="#000"/>
<rect x="705" y="389" width="5" height="3" fill="#000"/>
<rect x="691" y="401" width="8" height="7" fill="#000"/>
<rect x="692" y="402" width="6" height="5" fill="#fff"/>
<rect x="699" y="396" width="3" height="6" fill="#000"/>
<rect x="700" y="397" width="1" height="1" fill="#fff"/>
<rect x="700" y="399" width="1" height="1" fill="#fff"/>
<rect x="706" y="396" width="3" height="6" fill="#000"/>
<rect x="705" y="398" width="5" height="3" fill="#000"/>
<rect x="691" y="410" width="8" height="7" fill="#000"/>
<rect x="692" y="411" width="6" height="5" fill="#fff"/>
<rect x="699" y="406" width="3" height="6" fill="#000"/>
<rect x="700" y="407" width="1" height="1" fill="#fff"/>
<rect x="700" y="409" width="1" height="1" fill="#fff"/>
<rect x="706" y="406" width="3" height="6" fill="#000"/>
<rect x="705" y="407" width="5" height="3" fill="#000"/>
<rect x="691" y="419" width="8" height="7" fill="#000"/>
<rect x="692" y="420" width="6" height="5" fill="#fff"/>
<rect x="699" y="415" width="3" height="6" fill="#000"/>
<rect x="700" y="416" width="1" height="1" fill="#fff"/>
<rect x="700" y="418" width="1" height="1" fill="#fff"/>
<rect x="706" y="415" width="3" height="6" fill="#000"/>
<rect x="705" y="416" width="5" height="3" fill="#000"/>
<rect x="691" y="429" width="8" height="7" fill="#000"/>
<rect x="692" y="430" width="6" height="5" fill="#fff"/>
<rect x="699" y="424" width="3" height="6" fill="#000"/>
<rect x="700" y="425" width="1" height="1" fill="#fff"/>
<rect x="700" y="427" width="1" height="1" fill="#fff"/>
<rect x="706" y="424" width="3" height="6" fill="#000"/>
<rect x="705" y="426" width="5" height="3" fill="#000"/>
<rect x="691" y="438" width="8" height="7" fill="#000"/>
<rect x="692" y="439" width="6" height="5" fill="#fff"/>
<rect x="699" y="433" width="3" height="6" fill="#000"/>
<rect x="700" y="434" width="1" height="1" fill="#fff"/>
<rect x="700" y="436" width="1" height="1" fill="#fff"/>
<rect x="706" y="433" width="3" height="6" fill="#000"/>
<rect x="705" y="435" width="5" height="3" fill="#000"/>
<rect x="691" y="447" width="8" height="7" fill="#000"/>
<rect x="692" y="448" width="6" height="5" fill="#fff"/>
<rect x="699" y="443" width="3" height="6" fill="#000"/>
<rect x="700" y="444" width="1" height="1" fill="#fff"/>
<rect x="700" y="446" width="1" height="1" fill="#fff"/>
<rect x="706" y="443" width="3" height="6" fill="#000"/>
<rect x="705" y="444" width="5" height="3" fill="#000"/>
<rect x="691" y="456" width="8" height="7" fill="#000"/>
<rect x="692" y="457" width="6" height="5" fill="#fff"/>
<rect x="699" y="452" width="3" height="6" fill="#000"/>
<rect x="700" y="453" width="1" height="1" fill="#fff"/>
<rect x="700" y="455" width="1" height="1" fill="#fff"/>
<rect x="706" y="452" width="3" height="6" fill="#000"/>
<rect x="705" y="453" width="5" height="3" fill="#000"/>
<rect x="691" y="465" width="8" height="7" fill="#000"/>
<rect x="692" y="466" width="6" height="5" fill="#fff"/>
<rect x="699" y="461" width="3" height="6" fill="#000"/>
<rect x="700" y="462" width="1" height="1" fill="#fff"/>
<rect x="700" y="464" width="1" height="1" fill="#fff"/>
<rect x="706" y="461" width="3" height="6" fill="#000"/>
<rect x="705" y="462" width="5" height="3" fill="#000"/>
<rect x="691" y="475" width="8" height="7" fill="#000"/>
<rect x="692" y="476" width="6" height="5" fill="#fff"/>
<rect x="699" y="470" width="3" height="6" fill="#000"/>
<rect x="700" y="471" width="1" height="1" fill="#fff"/>
<rect x="700" y="473" width="1" height="1" fill="#fff"/>
<rect x="706" y="470" width="3" height="6" fill="#000"/>
<rect x="705" y="472" width="5" height="3" fill="#000"/>
<rect x="699" y="480" width="3" height="6" fill="#000"/>
<rect x="700" y="481" width="1" height="1" fill="#fff"/>
<rect x="700" y="483" width="1" height="1" fill="#fff"/>
<rect x="706" y="480" width="3" height="6" fill="#000"/>
<rect x="705" y="481" width="5" height="3" fill="#000"/>
<rect x="691" y="379" width="8" height="1" fill="#000"/>
<rect x="691" y="376" width="1" height="3" fill="#000"/>
<rect x="693" y="376" width="1" height="3" fill="#000"/>
<rect x="695" y="376" width="1" height="3" fill="#000"/>
<rect x="698" y="376" width="1" height="3" fill="#000"/>
<rect x="691" y="485" width="8" height="1" fill="#000"/>
<rect x="691" y="485" width="1" height="3" fill="#000"/>
<rect x="693" y="485" width="1" height="3" fill="#000"/>
<rect x="695" y="485" width="1" height="3" fill="#000"/>
<rect x="698" y="485" width="1" height="3" fill="#000"/>
<path d="M735,350.5 H758.7 L760.5,353 V357 L758.5,360 V367 L760.5,369 V372 L758.5,374 V381 L760.5,384 V388 L758.2,390.3 H737.5 L735.2,389 L734.3,388 V381.5 L735.5,381 V374 L733,370.5 L735.5,367 V360.5 L734.3,360 V353 Z" fill="#fff" stroke="#000" stroke-width="1" stroke-linejoin="round" shape-rendering="geometricPrecision"/>
<rect x="755" y="413" width="30" height="38" fill="#000"/>
<rect x="779" y="409" width="6" height="46" fill="#000"/>
<rect x="782" y="407" width="3" height="50" fill="#000"/>
<rect x="749" y="422" width="5" height="9" fill="#000"/>
<rect x="750" y="423" width="3" height="7" fill="#fff"/>
<rect x="749" y="433" width="5" height="9" fill="#000"/>
<rect x="750" y="434" width="3" height="7" fill="#fff"/>
<rect x="753" y="420" width="3" height="24" fill="#000"/>
<rect x="754" y="421" width="2" height="22" fill="#fff"/>
<rect x="755" y="424" width="1" height="1" fill="#000"/>
<rect x="755" y="426" width="1" height="1" fill="#000"/>
<rect x="755" y="428" width="1" height="1" fill="#000"/>
<rect x="755" y="435" width="1" height="1" fill="#000"/>
<rect x="755" y="437" width="1" height="1" fill="#000"/>
<rect x="755" y="439" width="1" height="1" fill="#000"/>
<rect x="754" y="429" width="2" height="1" fill="#000"/>
<rect x="754" y="433" width="2" height="1" fill="#000"/>
<rect x="754" y="421" width="2" height="1" fill="#000"/>
<rect x="754" y="442" width="2" height="1" fill="#000"/>
<rect x="770" y="486" width="7" height="26" fill="#000"/>
<rect x="771" y="486.5" width="5" height="1.5" fill="#fff" shape-rendering="geometricPrecision"/>
<rect x="771" y="492" width="5" height="1.9" fill="#fff" shape-rendering="geometricPrecision"/>
<rect x="771" y="498" width="5" height="1.8" fill="#fff" shape-rendering="geometricPrecision"/>
<rect x="771" y="503.5" width="5" height="1.6" fill="#fff" shape-rendering="geometricPrecision"/>
<rect x="771" y="509.6" width="5" height="1.4" fill="#fff" shape-rendering="geometricPrecision"/>
<polygon points="22.5,26 27,29.5 16.0254,37.671 14.3746,35.929" fill="#000" stroke="none" stroke-width="1" shape-rendering="geometricPrecision"/>
<rect x="23" y="12" width="23" height="17" rx="1.8" fill="#fff" stroke="#000" stroke-width="2" shape-rendering="geometricPrecision"/>
<polygon points="23.85,27.05 25.65,28.45 20.4525,31.8225" fill="#fff" stroke="none" stroke-width="1" shape-rendering="geometricPrecision"/>
<text x="34.5" y="25.5" font-size="13.7" text-anchor="middle" letter-spacing="0" textLength="13" lengthAdjust="spacingAndGlyphs">J6</text>
<polygon points="22.5,60.5 27,64 16.0699,73.1266 14.3301,71.4734" fill="#000" stroke="none" stroke-width="1" shape-rendering="geometricPrecision"/>
<rect x="23" y="48" width="33" height="15" rx="1.8" fill="#fff" stroke="#000" stroke-width="2" shape-rendering="geometricPrecision"/>
<polygon points="23.85,61.55 25.65,62.95 20.4525,66.7725" fill="#fff" stroke="none" stroke-width="1" shape-rendering="geometricPrecision"/>
<text x="39.5" y="60.5" font-size="13.7" text-anchor="middle" letter-spacing="0" textLength="25.7" lengthAdjust="spacingAndGlyphs">W11</text>
<polygon points="22.5,85 27,88.8 16.0418,97.1552 14.3582,95.4448" fill="#000" stroke="none" stroke-width="1" shape-rendering="geometricPrecision"/>
<rect x="23" y="71" width="23" height="17" rx="1.8" fill="#fff" stroke="#000" stroke-width="2" shape-rendering="geometricPrecision"/>
<polygon points="23.85,86.14 25.65,87.66 20.4525,91.13" fill="#fff" stroke="none" stroke-width="1" shape-rendering="geometricPrecision"/>
<text x="33.7" y="84.5" font-size="13.7" text-anchor="middle" letter-spacing="0" textLength="17.8" lengthAdjust="spacingAndGlyphs">W7</text>
<polygon points="42,123 36.5,128 28.6408,116.338 30.3592,114.662" fill="#000" stroke="none" stroke-width="1" shape-rendering="geometricPrecision"/>
<rect x="37" y="123" width="23" height="14.5" rx="1.8" fill="#fff" stroke="#000" stroke-width="2" shape-rendering="geometricPrecision"/>
<polygon points="40.35,124.5 38.15,126.5 35.35,121.5" fill="#fff" stroke="none" stroke-width="1" shape-rendering="geometricPrecision"/>
<text x="48.5" y="135.25" font-size="13.7" text-anchor="middle" letter-spacing="0" textLength="13" lengthAdjust="spacingAndGlyphs">J5</text>
<polygon points="20.5,166.5 27,166.5 24.1984,172.051 22.6016,171.949" fill="#000" stroke="none" stroke-width="1" shape-rendering="geometricPrecision"/>
<polygon points="20,166 26.8,166 24.6,176 23.9,185.5 22.5,185.5 22,176" fill="#000" stroke="none" stroke-width="1" shape-rendering="geometricPrecision"/>
<rect x="7.8" y="151" width="32" height="16" rx="1.8" fill="#fff" stroke="#000" stroke-width="2" shape-rendering="geometricPrecision"/>
<polygon points="22.45,166.5 25.05,166.5 23.575,169.25" fill="#fff" stroke="none" stroke-width="1" shape-rendering="geometricPrecision"/>
<text x="23.3" y="164" font-size="13.7" text-anchor="middle" letter-spacing="0" textLength="25" lengthAdjust="spacingAndGlyphs">W10</text>
<polygon points="24.5,237 29,241 16.558,251.139 14.842,249.461" fill="#000" stroke="none" stroke-width="1" shape-rendering="geometricPrecision"/>
<rect x="25" y="226" width="22" height="14" rx="1.8" fill="#fff" stroke="#000" stroke-width="2" shape-rendering="geometricPrecision"/>
<polygon points="25.85,238.2 27.65,239.8 21.7775,244.085" fill="#fff" stroke="none" stroke-width="1" shape-rendering="geometricPrecision"/>
<text x="36" y="238" font-size="13.7" text-anchor="middle" letter-spacing="0" textLength="13" lengthAdjust="spacingAndGlyphs">J7</text>
<polygon points="42,345 42,352 30,349.3 30,347.7" fill="#000" stroke="none" stroke-width="1" shape-rendering="geometricPrecision"/>
<polygon points="42,345 42,352 36,350.2 24.5,350.2 24.5,347 36,347" fill="#000" stroke="none" stroke-width="1" shape-rendering="geometricPrecision"/>
<rect x="41" y="340" width="46.5" height="16.5" rx="1.8" fill="#fff" stroke="#000" stroke-width="2" shape-rendering="geometricPrecision"/>
<polygon points="42,347.1 42,349.9 34.8,348.5" fill="#fff" stroke="none" stroke-width="1" shape-rendering="geometricPrecision"/>
<text x="63.75" y="353.25" font-size="13.7" text-anchor="middle" letter-spacing="0" textLength="39" lengthAdjust="spacingAndGlyphs">JPX20</text>
<polygon points="98,363.5 98,371.5 108.993,368.4 109.007,366.8" fill="#000" stroke="none" stroke-width="1" shape-rendering="geometricPrecision"/>
<polygon points="98,363.5 108.45,366 117,366 117,369.4 108.45,369.4 98,371.9" fill="#000" stroke="none" stroke-width="1" shape-rendering="geometricPrecision"/>
<rect x="61" y="359.5" width="38" height="16" rx="1.8" fill="#fff" stroke="#000" stroke-width="2" shape-rendering="geometricPrecision"/>
<polygon points="98,365.9 98,369.1 104.6,367.56" fill="#fff" stroke="none" stroke-width="1" shape-rendering="geometricPrecision"/>
<text x="78.5" y="372.5" font-size="13.7" text-anchor="middle" letter-spacing="0" textLength="32" lengthAdjust="spacingAndGlyphs">JPX9</text>
<polygon points="144.5,362 149.5,366.5 135.836,379.014 134.164,377.586" fill="#000" stroke="none" stroke-width="1" shape-rendering="geometricPrecision"/>
<rect x="145" y="349.5" width="49" height="16.5" rx="1.8" fill="#fff" stroke="#000" stroke-width="2" shape-rendering="geometricPrecision"/>
<polygon points="146,363.35 148,365.15 142.8,369.168" fill="#fff" stroke="none" stroke-width="1" shape-rendering="geometricPrecision"/>
<text x="169.5" y="362.75" font-size="13.7" text-anchor="middle" letter-spacing="0" textLength="38" lengthAdjust="spacingAndGlyphs">JPX13</text>
<polygon points="214,377 214,384.5 197.002,381.6 196.998,380" fill="#000" stroke="none" stroke-width="1" shape-rendering="geometricPrecision"/>
<rect x="213" y="372.5" width="46.5" height="16" rx="1.8" fill="#fff" stroke="#000" stroke-width="2" shape-rendering="geometricPrecision"/>
<polygon points="214,379.25 214,382.25 204.65,380.778" fill="#fff" stroke="none" stroke-width="1" shape-rendering="geometricPrecision"/>
<text x="236.25" y="385.5" font-size="13.7" text-anchor="middle" letter-spacing="0" textLength="37.8" lengthAdjust="spacingAndGlyphs">JPX11</text>
<polygon points="178,393.5 176,399.5 164.598,383.526 165.802,382.474" fill="#000" stroke="none" stroke-width="1" shape-rendering="geometricPrecision"/>
<rect x="176" y="395.5" width="46" height="15" rx="1.8" fill="#fff" stroke="#000" stroke-width="2" shape-rendering="geometricPrecision"/>
<polygon points="177.4,395.3 176.6,397.7 170.51,389.075" fill="#fff" stroke="none" stroke-width="1" shape-rendering="geometricPrecision"/>
<text x="199" y="408" font-size="13.7" text-anchor="middle" letter-spacing="0" textLength="38.5" lengthAdjust="spacingAndGlyphs">JPX12</text>
<polygon points="195.8,326 192,329.8 202.285,337.899 203.715,336.501" fill="#000" stroke="none" stroke-width="1" shape-rendering="geometricPrecision"/>
<rect x="163" y="312" width="32" height="17" rx="1.8" fill="#fff" stroke="#000" stroke-width="2" shape-rendering="geometricPrecision"/>
<polygon points="194.66,327.14 193.14,328.66 198.905,333.015" fill="#fff" stroke="none" stroke-width="1" shape-rendering="geometricPrecision"/>
<text x="179" y="325.5" font-size="13.7" text-anchor="middle" letter-spacing="0" textLength="23.3" lengthAdjust="spacingAndGlyphs">JP3</text>
<polygon points="269,336.5 269,344 251.498,341 251.502,339.4" fill="#000" stroke="none" stroke-width="1" shape-rendering="geometricPrecision"/>
<rect x="268" y="332" width="33.5" height="16" rx="1.8" fill="#fff" stroke="#000" stroke-width="2" shape-rendering="geometricPrecision"/>
<polygon points="269,338.75 269,341.75 259.375,340.222" fill="#fff" stroke="none" stroke-width="1" shape-rendering="geometricPrecision"/>
<text x="284.75" y="345" font-size="13.7" text-anchor="middle" letter-spacing="0" textLength="22.7" lengthAdjust="spacingAndGlyphs">JP2</text>
<polygon points="431,305.5 431,313 441.004,310 440.996,308.4" fill="#000" stroke="none" stroke-width="1" shape-rendering="geometricPrecision"/>
<polygon points="431,305.1 440.5,307.5 450,307.5 450,310.7 440.5,310.7 431,313.1" fill="#000" stroke="none" stroke-width="1" shape-rendering="geometricPrecision"/>
<rect x="408" y="301" width="24" height="17" rx="1.8" fill="#fff" stroke="#000" stroke-width="2" shape-rendering="geometricPrecision"/>
<polygon points="431,307.75 431,310.75 437,309.22" fill="#fff" stroke="none" stroke-width="1" shape-rendering="geometricPrecision"/>
<text x="420" y="314.5" font-size="13.7" text-anchor="middle" letter-spacing="0" textLength="17.8" lengthAdjust="spacingAndGlyphs">W8</text>
<polygon points="37.5,393 32.5,397.5 44.4357,405.767 45.5643,404.633" fill="#000" stroke="none" stroke-width="1" shape-rendering="geometricPrecision"/>
<rect x="14" y="381" width="22.5" height="16.5" rx="1.8" fill="#fff" stroke="#000" stroke-width="2" shape-rendering="geometricPrecision"/>
<polygon points="36,394.35 34,396.15 40.5,400.722" fill="#fff" stroke="none" stroke-width="1" shape-rendering="geometricPrecision"/>
<text x="25.25" y="394.25" font-size="13.7" text-anchor="middle" letter-spacing="0" textLength="17.8" lengthAdjust="spacingAndGlyphs">W5</text>
<polygon points="68.5,393 63.5,397.5 74.9214,405.752 76.0786,404.648" fill="#000" stroke="none" stroke-width="1" shape-rendering="geometricPrecision"/>
<rect x="44.5" y="381" width="23" height="16.5" rx="1.8" fill="#fff" stroke="#000" stroke-width="2" shape-rendering="geometricPrecision"/>
<polygon points="67,394.35 65,396.15 71.225,400.722" fill="#fff" stroke="none" stroke-width="1" shape-rendering="geometricPrecision"/>
<text x="56" y="394.25" font-size="13.7" text-anchor="middle" letter-spacing="0" textLength="17.8" lengthAdjust="spacingAndGlyphs">W4</text>
<polygon points="20.5,443 28.5,443 26.2992,424.542 24.1008,424.458" fill="#000" stroke="none" stroke-width="1" shape-rendering="geometricPrecision"/>
<rect x="12.5" y="442" width="23" height="17" rx="1.8" fill="#fff" stroke="#000" stroke-width="2" shape-rendering="geometricPrecision"/>
<polygon points="22.9,443 26.1,443 24.71,437.45" fill="#fff" stroke="none" stroke-width="1" shape-rendering="geometricPrecision"/>
<text x="24" y="455.5" font-size="13.7" text-anchor="middle" letter-spacing="0" textLength="17.8" lengthAdjust="spacingAndGlyphs">W3</text>
<polygon points="50.5,443 58.5,443 56.399,424.548 54.201,424.452" fill="#000" stroke="none" stroke-width="1" shape-rendering="geometricPrecision"/>
<rect x="42.5" y="442" width="23.5" height="17" rx="1.8" fill="#fff" stroke="#000" stroke-width="2" shape-rendering="geometricPrecision"/>
<polygon points="52.9,443 56.1,443 54.74,437.45" fill="#fff" stroke="none" stroke-width="1" shape-rendering="geometricPrecision"/>
<text x="54.25" y="455.5" font-size="13.7" text-anchor="middle" letter-spacing="0" textLength="17.8" lengthAdjust="spacingAndGlyphs">W2</text>
<polygon points="81,443 89.5,443 86.6998,424.521 84.5002,424.479" fill="#000" stroke="none" stroke-width="1" shape-rendering="geometricPrecision"/>
<rect x="73" y="442" width="23.5" height="17" rx="1.8" fill="#fff" stroke="#000" stroke-width="2" shape-rendering="geometricPrecision"/>
<polygon points="83.55,443 86.95,443 85.355,437.45" fill="#fff" stroke="none" stroke-width="1" shape-rendering="geometricPrecision"/>
<text x="84.75" y="455.5" font-size="13.7" text-anchor="middle" letter-spacing="0" textLength="17.8" lengthAdjust="spacingAndGlyphs">W1</text>
<polygon points="287,16 287,23.5 270.002,20.6 269.998,19" fill="#000" stroke="none" stroke-width="1" shape-rendering="geometricPrecision"/>
<rect x="286.5" y="11.5" width="23.5" height="16.5" rx="1.8" fill="#fff" stroke="#000" stroke-width="2" shape-rendering="geometricPrecision"/>
<polygon points="287,18.25 287,21.25 277.65,19.7775" fill="#fff" stroke="none" stroke-width="1" shape-rendering="geometricPrecision"/>
<text x="298.25" y="24.75" font-size="13.7" text-anchor="middle" letter-spacing="0" textLength="15" lengthAdjust="spacingAndGlyphs">S1</text>
<polygon points="753,495 753,503.5 765.017,499.8 764.983,498.2" fill="#000" stroke="none" stroke-width="1" shape-rendering="geometricPrecision"/>
<polygon points="753,494.8 763.8,497.4 771,497.4 771,500.6 763.8,500.6 753,503.2" fill="#000" stroke="none" stroke-width="1" shape-rendering="geometricPrecision"/>
<rect x="730" y="491" width="24" height="17" rx="1.8" fill="#fff" stroke="#000" stroke-width="2" shape-rendering="geometricPrecision"/>
<polygon points="753,497.55 753,500.95 759.6,499.113" fill="#fff" stroke="none" stroke-width="1" shape-rendering="geometricPrecision"/>
<text x="742" y="504.5" font-size="13.7" text-anchor="middle" letter-spacing="0" textLength="13" lengthAdjust="spacingAndGlyphs">J4</text>
</svg>
</body></html>
